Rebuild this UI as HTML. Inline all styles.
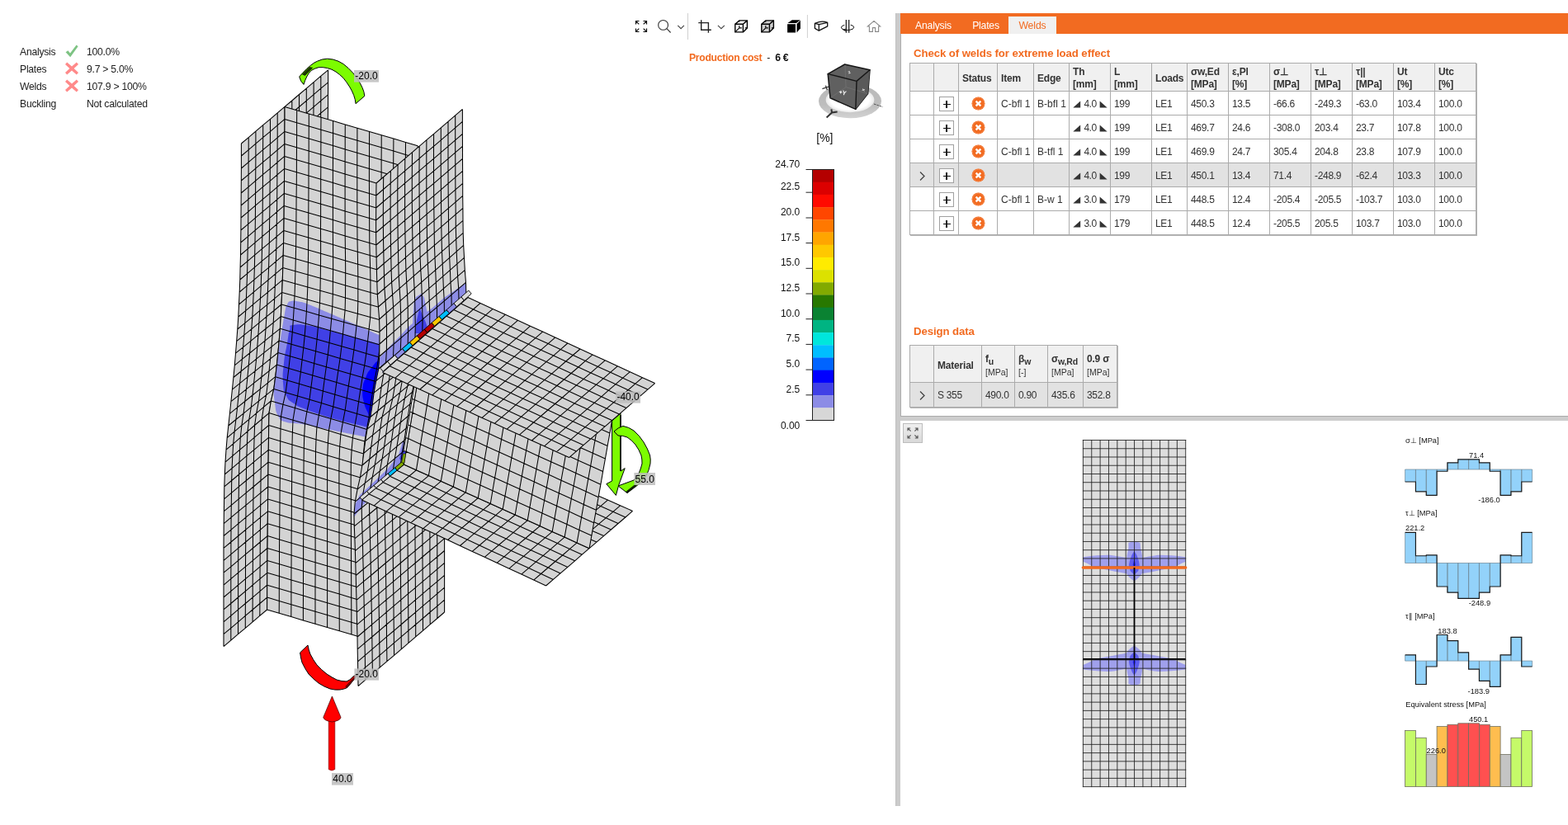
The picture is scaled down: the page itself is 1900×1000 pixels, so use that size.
<!DOCTYPE html>
<html lang="en">
<head>
<meta charset="utf-8">
<title>Check of welds</title>
<style>

html,body{margin:0;padding:0;background:#fff;}
#app{position:relative;width:1900px;height:1000px;overflow:hidden;background:#fff;
  font-family:"Liberation Sans",sans-serif;font-size:12px;color:#333;}
.abs{position:absolute;}
.t{position:absolute;white-space:nowrap;line-height:1;}
svg{overflow:visible;}
svg text{font-family:"Liberation Sans",sans-serif;}
.status{position:absolute;left:24px;top:52px;width:220px;}
.status .row{position:relative;height:21px;}
.status .row span{position:absolute;top:4px;line-height:14px;font-size:12.2px;color:#222;letter-spacing:-0.25px;}
.status .k{left:0;}
.status .v{left:81px;}
.status svg{position:absolute;left:54px;top:1px;}
.vsplit{position:absolute;left:1085px;top:16px;width:6px;height:961px;background:#cbcbcb;box-shadow:inset 1px 0 0 #c0c0c0;}
.hsplit{position:absolute;left:1091px;top:505px;width:809px;height:5px;background:#cdcdcd;}
.panel{position:absolute;left:1091px;top:41px;width:809px;height:464px;box-sizing:border-box;border-left:1px solid #ababab;border-bottom:1px solid #ababab;background:#fff;}
.tabbar{position:absolute;left:1091px;top:16px;width:809px;height:25px;background:#f26b21;}
.tab{position:absolute;top:4px;height:21px;line-height:23px;font-size:12.2px;color:#fff;text-align:center;letter-spacing:-0.1px;}
.tab.sel{background:#f0f0f0;color:#f26b21;}
.h1{position:absolute;font-weight:bold;color:#f26b21;font-size:13.2px;line-height:16px;white-space:nowrap;letter-spacing:-0.08px;}
table.grid{position:absolute;border-collapse:collapse;table-layout:fixed;font-size:12px;color:#333;
  border:1px solid #a9a9a9;box-shadow:1px 1px 0 #b5b5b5;}
table.grid th,table.grid td{border:1px solid #ababab;padding:2px 0 0 4px;text-align:left;vertical-align:middle;
  overflow:hidden;white-space:nowrap;box-sizing:border-box;letter-spacing:-0.3px;}
table.grid td.w{letter-spacing:0.03px;}
table.grid th{background:#f0f0f0;font-weight:bold;color:#333;line-height:15px;font-size:12px;letter-spacing:-0.2px;padding-top:3px;}
table.grid td{background:#fff;}
table.grid tr.sel td{background:#e2e2e2;}
table.grid td.c{padding:2px 0 0 0;text-align:center;}
.plus{display:inline-block;width:16px;height:16px;border:1px solid #a0a0a0;background:#fff;position:relative;vertical-align:middle;box-sizing:content-box;}
.plus:before{content:"";position:absolute;left:4px;top:7.5px;width:9px;height:1.6px;background:#111;}
.plus:after{content:"";position:absolute;left:7.7px;top:4px;width:1.6px;height:9px;background:#111;}
.unit{font-weight:normal;font-size:10.5px;letter-spacing:0;}
sub{font-size:10.5px;vertical-align:-3px;line-height:0;}
.fitbtn{position:absolute;left:1094px;top:513px;width:22px;height:22px;border:1px solid #bdbdbd;
  background:linear-gradient(#efefef,#d9d9d9);}

</style>
</head>
<body>
<div id="app">
<svg id="scene" width="1085" height="1000" viewBox="0 0 1085 1000" style="position:absolute;left:0;top:0"><path d="M292.4 174L301.2 166.6L309.9 159.1L318.7 151.7L327.5 144.3L336.2 136.8L345 129.4L353.8 122L362.5 114.5L371.3 107.1L380.1 99.7L388.8 92.2L397.6 84.8L397.6 99.8L397.5 114.8L397.5 129.8L397.3 144.8L397.2 159.8L397 174.8L396.9 189.8L396.7 204.8L396.7 219.8L396.6 234.8L396.4 249.8L396.2 264.8L396 279.8L395.7 294.8L395.5 309.8L395.4 324.4L395.1 339L394.5 353.7L393.6 368.3L392.4 382.9L390.9 397.5L389 412.1L386.8 426.8L381.5 441.4L378 456L378.3 470.9L378.6 485.8L378.7 500.7L378.6 515.6L378.5 530.5L378.3 545.4L378.1 560.3L377.9 575.2L377.6 590.1L377.3 605L377.1 619.9L376.9 634.8L376.7 649.7L376.5 664.6L376.3 679.5L376.2 694.4L367.4 701.8L358.7 709.3L349.9 716.7L341.1 724.1L332.4 731.6L323.6 739L314.8 746.4L306.1 753.9L297.3 761.3L288.5 768.7L279.8 776.2L271 783.6L271 768.7L271 753.8L271 738.9L271 724L271 709.1L271 694.2L271 679.3L271 664.4L271.1 649.5L271.2 634.6L271.4 619.7L271.6 604.8L271.8 589.9L272.3 575L273 560.1L274 545.2L275.2 530.6L276.8 516L278.4 501.3L279.9 486.7L281.4 472.1L282.9 457.5L284.3 442.9L285.5 428.2L286.7 413.6L287.8 399L288.8 384L289.5 369L290.2 354L290.8 339L291.1 324L291.5 309L291.7 294L291.9 279L292 264L292.1 249L292.2 234L292.3 219L292.4 204L292.4 189Z" fill="#d4d4d4"/><path d="M292.4 174L301.2 166.6L309.9 159.1L318.7 151.7L327.5 144.3L336.2 136.8L345 129.4L353.8 122L362.5 114.5L371.3 107.1L380.1 99.7L388.8 92.2L397.6 84.8M292.4 189L301.2 181.6L309.9 174.1L318.7 166.7L327.5 159.3L336.2 151.8L345 144.4L353.8 137L362.5 129.5L371.3 122.1L380.1 114.7L388.8 107.2L397.6 99.8M292.4 204L301.1 196.6L309.9 189.1L318.6 181.7L327.4 174.3L336.2 166.8L344.9 159.4L353.7 152L362.5 144.5L371.2 137.1L380 129.7L388.8 122.2L397.5 114.8M292.3 219L301.1 211.6L309.8 204.1L318.6 196.7L327.3 189.3L336.1 181.8L344.9 174.4L353.6 167L362.4 159.5L371.2 152.1L379.9 144.7L388.7 137.2L397.5 129.8M292.2 234L301 226.6L309.7 219.1L318.5 211.7L327.3 204.3L336 196.8L344.8 189.4L353.5 182L362.3 174.5L371.1 167.1L379.8 159.7L388.6 152.2L397.3 144.8M292.1 249L300.9 241.6L309.6 234.1L318.4 226.7L327.2 219.3L335.9 211.8L344.7 204.4L353.4 197L362.2 189.5L370.9 182.1L379.7 174.7L388.5 167.2L397.2 159.8M292 264L300.8 256.6L309.5 249.1L318.3 241.7L327 234.3L335.8 226.8L344.5 219.4L353.3 212L362 204.5L370.8 197.1L379.5 189.7L388.3 182.2L397 174.8M291.9 279L300.7 271.6L309.4 264.1L318.2 256.7L326.9 249.3L335.7 241.8L344.4 234.4L353.1 227L361.9 219.5L370.6 212.1L379.4 204.7L388.1 197.2L396.9 189.8M291.7 294L300.5 286.6L309.2 279.1L318 271.7L326.7 264.3L335.5 256.8L344.2 249.4L353 242L361.7 234.5L370.5 227.1L379.2 219.7L388 212.2L396.7 204.8M291.5 309L300.2 301.6L309 294.1L317.8 286.7L326.5 279.3L335.3 271.8L344.1 264.4L352.8 257L361.6 249.5L370.4 242.1L379.1 234.7L387.9 227.2L396.7 219.8M291.1 324L299.9 316.6L308.7 309.1L317.5 301.7L326.3 294.3L335.1 286.8L343.9 279.4L352.7 272L361.4 264.5L370.2 257.1L379 249.7L387.8 242.2L396.6 234.8M290.8 339L299.6 331.6L308.4 324.1L317.2 316.7L326 309.3L334.8 301.8L343.6 294.4L352.4 287L361.2 279.5L370 272.1L378.8 264.7L387.6 257.2L396.4 249.8M290.2 354L299 346.6L307.9 339.1L316.7 331.7L325.6 324.3L334.4 316.8L343.2 309.4L352.1 302L360.9 294.5L369.7 287.1L378.6 279.7L387.4 272.2L396.2 264.8M289.5 369L298.4 361.6L307.3 354.1L316.2 346.7L325 339.3L333.9 331.8L342.8 324.4L351.6 317L360.5 309.5L369.4 302.1L378.3 294.7L387.1 287.2L396 279.8M288.8 384L297.7 376.6L306.6 369.1L315.5 361.7L324.4 354.3L333.3 346.8L342.3 339.4L351.2 332L360.1 324.5L369 317.1L377.9 309.7L386.8 302.2L395.7 294.8M287.8 399L296.8 391.6L305.8 384.1L314.7 376.7L323.7 369.3L332.7 361.8L341.7 354.4L350.6 347L359.6 339.5L368.6 332.1L377.6 324.7L386.5 317.2L395.5 309.8M286.7 413.6L295.8 406.2L304.8 398.8L313.9 391.3L322.9 383.9L332 376.5L341 369L350.1 361.6L359.2 354.2L368.2 346.7L377.3 339.3L386.3 331.9L395.4 324.4M285.5 428.2L294.6 420.8L303.8 413.4L312.9 405.9L322 398.5L331.2 391.1L340.3 383.6L349.4 376.2L358.6 368.8L367.7 361.3L376.8 353.9L386 346.5L395.1 339M284.3 442.9L293.4 435.4L302.6 428L311.8 420.6L321 413.1L330.2 405.7L339.4 398.3L348.5 390.8L357.7 383.4L366.9 376L376.1 368.5L385.3 361.1L394.5 353.7M282.9 457.5L292.1 450L301.3 442.6L310.6 435.2L319.8 427.7L329 420.3L338.2 412.9L347.4 405.4L356.7 398L365.9 390.6L375.1 383.1L384.3 375.7L393.6 368.3M281.4 472.1L290.6 464.7L299.9 457.2L309.1 449.8L318.4 442.4L327.6 434.9L336.9 427.5L346.2 420.1L355.4 412.6L364.7 405.2L373.9 397.8L383.2 390.3L392.4 382.9M279.9 486.7L289.1 479.3L298.4 471.9L307.6 464.4L316.9 457L326.1 449.6L335.4 442.1L344.6 434.7L353.9 427.3L363.2 419.8L372.4 412.4L381.7 405L390.9 397.5M278.4 501.3L287.6 493.9L296.8 486.5L306 479L315.3 471.6L324.5 464.2L333.7 456.7L342.9 449.3L352.1 441.9L361.4 434.4L370.6 427L379.8 419.6L389 412.1M276.8 516L285.9 508.5L295.1 501.1L304.3 493.7L313.5 486.2L322.6 478.8L331.8 471.4L341 463.9L350.1 456.5L359.3 449.1L368.5 441.6L377.7 434.2L386.8 426.8M275.2 530.6L284.1 523.1L292.9 515.7L301.8 508.3L310.7 500.8L319.5 493.4L328.4 486L337.2 478.5L346.1 471.1L355 463.7L363.8 456.2L372.7 448.8L381.5 441.4M274 545.2L282.7 537.8L291.3 530.3L300 522.9L308.6 515.5L317.3 508L326 500.6L334.6 493.2L343.3 485.7L352 478.3L360.6 470.9L369.3 463.4L378 456M273 560.1L281.8 552.7L290.6 545.2L299.4 537.8L308.1 530.4L316.9 522.9L325.7 515.5L334.4 508.1L343.2 500.6L352 493.2L360.8 485.8L369.5 478.3L378.3 470.9M272.3 575L281.1 567.6L290 560.1L298.9 552.7L307.7 545.3L316.6 537.8L325.5 530.4L334.3 523L343.2 515.5L352 508.1L360.9 500.7L369.8 493.2L378.6 485.8M271.8 589.9L280.7 582.5L289.6 575L298.5 567.6L307.4 560.2L316.4 552.7L325.3 545.3L334.2 537.9L343.1 530.4L352 523L360.9 515.6L369.8 508.1L378.7 500.7M271.6 604.8L280.5 597.4L289.4 589.9L298.3 582.5L307.3 575.1L316.2 567.6L325.1 560.2L334 552.8L342.9 545.3L351.9 537.9L360.8 530.5L369.7 523L378.6 515.6M271.4 619.7L280.3 612.3L289.2 604.8L298.2 597.4L307.1 590L316 582.5L324.9 575.1L333.9 567.7L342.8 560.2L351.7 552.8L360.7 545.4L369.6 537.9L378.5 530.5M271.2 634.6L280.1 627.2L289.1 619.7L298 612.3L306.9 604.9L315.9 597.4L324.8 590L333.7 582.6L342.6 575.1L351.6 567.7L360.5 560.3L369.4 552.8L378.3 545.4M271.1 649.5L280 642.1L288.9 634.6L297.9 627.2L306.8 619.8L315.7 612.3L324.6 604.9L333.5 597.5L342.5 590L351.4 582.6L360.3 575.2L369.2 567.7L378.1 560.3M271 664.4L279.9 657L288.8 649.5L297.7 642.1L306.6 634.7L315.6 627.2L324.5 619.8L333.4 612.4L342.3 604.9L351.2 597.5L360.1 590.1L369 582.6L377.9 575.2M271 679.3L279.9 671.9L288.8 664.4L297.7 657L306.5 649.6L315.4 642.1L324.3 634.7L333.2 627.3L342.1 619.8L351 612.4L359.8 605L368.7 597.5L377.6 590.1M271 694.2L279.9 686.8L288.7 679.3L297.6 671.9L306.4 664.5L315.3 657L324.2 649.6L333 642.2L341.9 634.7L350.7 627.3L359.6 619.9L368.5 612.4L377.3 605M271 709.1L279.8 701.7L288.7 694.2L297.5 686.8L306.4 679.4L315.2 671.9L324 664.5L332.9 657.1L341.7 649.6L350.6 642.2L359.4 634.8L368.2 627.3L377.1 619.9M271 724L279.8 716.6L288.6 709.1L297.5 701.7L306.3 694.3L315.1 686.8L323.9 679.4L332.8 672L341.6 664.5L350.4 657.1L359.2 649.7L368 642.2L376.9 634.8M271 738.9L279.8 731.5L288.6 724L297.4 716.6L306.2 709.2L315 701.7L323.8 694.3L332.6 686.9L341.4 679.4L350.3 672L359.1 664.6L367.9 657.1L376.7 649.7M271 753.8L279.8 746.4L288.6 738.9L297.4 731.5L306.2 724.1L315 716.6L323.7 709.2L332.5 701.8L341.3 694.3L350.1 686.9L358.9 679.5L367.7 672L376.5 664.6M271 768.7L279.8 761.3L288.6 753.8L297.3 746.4L306.1 739L314.9 731.5L323.7 724.1L332.4 716.7L341.2 709.2L350 701.8L358.8 694.4L367.6 686.9L376.3 679.5M271 783.6L279.8 776.2L288.5 768.7L297.3 761.3L306.1 753.9L314.8 746.4L323.6 739L332.4 731.6L341.1 724.1L349.9 716.7L358.7 709.3L367.4 701.8L376.2 694.4M292.4 174L292.4 189L292.4 204L292.3 219L292.2 234L292.1 249L292 264L291.9 279L291.7 294L291.5 309L291.1 324L290.8 339L290.2 354L289.5 369L288.8 384L287.8 399L286.7 413.6L285.5 428.2L284.3 442.9L282.9 457.5L281.4 472.1L279.9 486.7L278.4 501.3L276.8 516L275.2 530.6L274 545.2L273 560.1L272.3 575L271.8 589.9L271.6 604.8L271.4 619.7L271.2 634.6L271.1 649.5L271 664.4L271 679.3L271 694.2L271 709.1L271 724L271 738.9L271 753.8L271 768.7L271 783.6M301.2 166.6L301.2 181.6L301.1 196.6L301.1 211.6L301 226.6L300.9 241.6L300.8 256.6L300.7 271.6L300.5 286.6L300.2 301.6L299.9 316.6L299.6 331.6L299 346.6L298.4 361.6L297.7 376.6L296.8 391.6L295.8 406.2L294.6 420.8L293.4 435.4L292.1 450L290.6 464.7L289.1 479.3L287.6 493.9L285.9 508.5L284.1 523.1L282.7 537.8L281.8 552.7L281.1 567.6L280.7 582.5L280.5 597.4L280.3 612.3L280.1 627.2L280 642.1L279.9 657L279.9 671.9L279.9 686.8L279.8 701.7L279.8 716.6L279.8 731.5L279.8 746.4L279.8 761.3L279.8 776.2M309.9 159.1L309.9 174.1L309.9 189.1L309.8 204.1L309.7 219.1L309.6 234.1L309.5 249.1L309.4 264.1L309.2 279.1L309 294.1L308.7 309.1L308.4 324.1L307.9 339.1L307.3 354.1L306.6 369.1L305.8 384.1L304.8 398.8L303.8 413.4L302.6 428L301.3 442.6L299.9 457.2L298.4 471.9L296.8 486.5L295.1 501.1L292.9 515.7L291.3 530.3L290.6 545.2L290 560.1L289.6 575L289.4 589.9L289.2 604.8L289.1 619.7L288.9 634.6L288.8 649.5L288.8 664.4L288.7 679.3L288.7 694.2L288.6 709.1L288.6 724L288.6 738.9L288.6 753.8L288.5 768.7M318.7 151.7L318.7 166.7L318.6 181.7L318.6 196.7L318.5 211.7L318.4 226.7L318.3 241.7L318.2 256.7L318 271.7L317.8 286.7L317.5 301.7L317.2 316.7L316.7 331.7L316.2 346.7L315.5 361.7L314.7 376.7L313.9 391.3L312.9 405.9L311.8 420.6L310.6 435.2L309.1 449.8L307.6 464.4L306 479L304.3 493.7L301.8 508.3L300 522.9L299.4 537.8L298.9 552.7L298.5 567.6L298.3 582.5L298.2 597.4L298 612.3L297.9 627.2L297.7 642.1L297.7 657L297.6 671.9L297.5 686.8L297.5 701.7L297.4 716.6L297.4 731.5L297.3 746.4L297.3 761.3M327.5 144.3L327.5 159.3L327.4 174.3L327.3 189.3L327.3 204.3L327.2 219.3L327 234.3L326.9 249.3L326.7 264.3L326.5 279.3L326.3 294.3L326 309.3L325.6 324.3L325 339.3L324.4 354.3L323.7 369.3L322.9 383.9L322 398.5L321 413.1L319.8 427.7L318.4 442.4L316.9 457L315.3 471.6L313.5 486.2L310.7 500.8L308.6 515.5L308.1 530.4L307.7 545.3L307.4 560.2L307.3 575.1L307.1 590L306.9 604.9L306.8 619.8L306.6 634.7L306.5 649.6L306.4 664.5L306.4 679.4L306.3 694.3L306.2 709.2L306.2 724.1L306.1 739L306.1 753.9M336.2 136.8L336.2 151.8L336.2 166.8L336.1 181.8L336 196.8L335.9 211.8L335.8 226.8L335.7 241.8L335.5 256.8L335.3 271.8L335.1 286.8L334.8 301.8L334.4 316.8L333.9 331.8L333.3 346.8L332.7 361.8L332 376.5L331.2 391.1L330.2 405.7L329 420.3L327.6 434.9L326.1 449.6L324.5 464.2L322.6 478.8L319.5 493.4L317.3 508L316.9 522.9L316.6 537.8L316.4 552.7L316.2 567.6L316 582.5L315.9 597.4L315.7 612.3L315.6 627.2L315.4 642.1L315.3 657L315.2 671.9L315.1 686.8L315 701.7L315 716.6L314.9 731.5L314.8 746.4M345 129.4L345 144.4L344.9 159.4L344.9 174.4L344.8 189.4L344.7 204.4L344.5 219.4L344.4 234.4L344.2 249.4L344.1 264.4L343.9 279.4L343.6 294.4L343.2 309.4L342.8 324.4L342.3 339.4L341.7 354.4L341 369L340.3 383.6L339.4 398.3L338.2 412.9L336.9 427.5L335.4 442.1L333.7 456.7L331.8 471.4L328.4 486L326 500.6L325.7 515.5L325.5 530.4L325.3 545.3L325.1 560.2L324.9 575.1L324.8 590L324.6 604.9L324.5 619.8L324.3 634.7L324.2 649.6L324 664.5L323.9 679.4L323.8 694.3L323.7 709.2L323.7 724.1L323.6 739M353.8 122L353.8 137L353.7 152L353.6 167L353.5 182L353.4 197L353.3 212L353.1 227L353 242L352.8 257L352.7 272L352.4 287L352.1 302L351.6 317L351.2 332L350.6 347L350.1 361.6L349.4 376.2L348.5 390.8L347.4 405.4L346.2 420.1L344.6 434.7L342.9 449.3L341 463.9L337.2 478.5L334.6 493.2L334.4 508.1L334.3 523L334.2 537.9L334 552.8L333.9 567.7L333.7 582.6L333.5 597.5L333.4 612.4L333.2 627.3L333 642.2L332.9 657.1L332.8 672L332.6 686.9L332.5 701.8L332.4 716.7L332.4 731.6M362.5 114.5L362.5 129.5L362.5 144.5L362.4 159.5L362.3 174.5L362.2 189.5L362 204.5L361.9 219.5L361.7 234.5L361.6 249.5L361.4 264.5L361.2 279.5L360.9 294.5L360.5 309.5L360.1 324.5L359.6 339.5L359.2 354.2L358.6 368.8L357.7 383.4L356.7 398L355.4 412.6L353.9 427.3L352.1 441.9L350.1 456.5L346.1 471.1L343.3 485.7L343.2 500.6L343.2 515.5L343.1 530.4L342.9 545.3L342.8 560.2L342.6 575.1L342.5 590L342.3 604.9L342.1 619.8L341.9 634.7L341.7 649.6L341.6 664.5L341.4 679.4L341.3 694.3L341.2 709.2L341.1 724.1M371.3 107.1L371.3 122.1L371.2 137.1L371.2 152.1L371.1 167.1L370.9 182.1L370.8 197.1L370.6 212.1L370.5 227.1L370.4 242.1L370.2 257.1L370 272.1L369.7 287.1L369.4 302.1L369 317.1L368.6 332.1L368.2 346.7L367.7 361.3L366.9 376L365.9 390.6L364.7 405.2L363.2 419.8L361.4 434.4L359.3 449.1L355 463.7L352 478.3L352 493.2L352 508.1L352 523L351.9 537.9L351.7 552.8L351.6 567.7L351.4 582.6L351.2 597.5L351 612.4L350.7 627.3L350.6 642.2L350.4 657.1L350.3 672L350.1 686.9L350 701.8L349.9 716.7M380.1 99.7L380.1 114.7L380 129.7L379.9 144.7L379.8 159.7L379.7 174.7L379.5 189.7L379.4 204.7L379.2 219.7L379.1 234.7L379 249.7L378.8 264.7L378.6 279.7L378.3 294.7L377.9 309.7L377.6 324.7L377.3 339.3L376.8 353.9L376.1 368.5L375.1 383.1L373.9 397.8L372.4 412.4L370.6 427L368.5 441.6L363.8 456.2L360.6 470.9L360.8 485.8L360.9 500.7L360.9 515.6L360.8 530.5L360.7 545.4L360.5 560.3L360.3 575.2L360.1 590.1L359.8 605L359.6 619.9L359.4 634.8L359.2 649.7L359.1 664.6L358.9 679.5L358.8 694.4L358.7 709.3M388.8 92.2L388.8 107.2L388.8 122.2L388.7 137.2L388.6 152.2L388.5 167.2L388.3 182.2L388.1 197.2L388 212.2L387.9 227.2L387.8 242.2L387.6 257.2L387.4 272.2L387.1 287.2L386.8 302.2L386.5 317.2L386.3 331.9L386 346.5L385.3 361.1L384.3 375.7L383.2 390.3L381.7 405L379.8 419.6L377.7 434.2L372.7 448.8L369.3 463.4L369.5 478.3L369.8 493.2L369.8 508.1L369.7 523L369.6 537.9L369.4 552.8L369.2 567.7L369 582.6L368.7 597.5L368.5 612.4L368.2 627.3L368 642.2L367.9 657.1L367.7 672L367.6 686.9L367.4 701.8M397.6 84.8L397.6 99.8L397.5 114.8L397.5 129.8L397.3 144.8L397.2 159.8L397 174.8L396.9 189.8L396.7 204.8L396.7 219.8L396.6 234.8L396.4 249.8L396.2 264.8L396 279.8L395.7 294.8L395.5 309.8L395.4 324.4L395.1 339L394.5 353.7L393.6 368.3L392.4 382.9L390.9 397.5L389 412.1L386.8 426.8L381.5 441.4L378 456L378.3 470.9L378.6 485.8L378.7 500.7L378.6 515.6L378.5 530.5L378.3 545.4L378.1 560.3L377.9 575.2L377.6 590.1L377.3 605L377.1 619.9L376.9 634.8L376.7 649.7L376.5 664.6L376.3 679.5L376.2 694.4" fill="none" stroke="#000" stroke-width="1.05" stroke-linejoin="round"/><path d="M345 129.4L359.7 133.7L374.3 138L389 142.3L403.6 146.6L418.3 150.9L432.9 155.2L447.6 159.5L462.2 163.8L476.9 168.1L491.5 172.4L506.2 176.7L506.1 191.7L506 206.7L506 221.7L506.1 236.7L506.2 251.7L506.4 266.7L506.6 281.7L506.8 296.7L507.1 311.7L507.8 326.7L508.7 341.7L509.2 356.7L509.6 371.7L510.1 386.7L509.8 401.7L507.7 416.3L505.6 430.9L503.5 445.6L500.8 460.2L497.4 474.8L494.7 489.4L492.3 504L490.1 518.7L487.8 533.3L485.4 547.9L483.4 562.8L482.4 577.7L482.3 592.6L482.4 607.5L482.7 622.4L482.8 637.3L483 652.2L483.1 667.1L483.3 682L483.5 696.9L483.6 711.8L483.8 726.7L483.9 741.6L484.1 756.5L484.2 771.4L484.3 786.3L469.7 782L455.1 777.7L440.5 773.4L425.9 769.1L411.3 764.8L396.6 760.5L382 756.2L367.4 751.9L352.8 747.6L338.2 743.3L323.6 739L323.7 724.1L323.7 709.2L323.8 694.3L323.9 679.4L324 664.5L324.2 649.6L324.3 634.7L324.5 619.8L324.6 604.9L324.8 590L324.9 575.1L325.1 560.2L325.3 545.3L325.5 530.4L325.7 515.5L326 500.6L328.4 486L331.8 471.4L333.7 456.7L335.4 442.1L336.9 427.5L338.2 412.9L339.4 398.3L340.3 383.6L341 369L341.7 354.4L342.3 339.4L342.8 324.4L343.2 309.4L343.6 294.4L343.9 279.4L344.1 264.4L344.2 249.4L344.4 234.4L344.5 219.4L344.7 204.4L344.8 189.4L344.9 174.4L344.9 159.4L345 144.4Z" fill="#d4d4d4"/><clipPath id="cw"><path d="M345 129.4L359.7 133.7L374.3 138L389 142.3L403.6 146.6L418.3 150.9L432.9 155.2L447.6 159.5L462.2 163.8L476.9 168.1L491.5 172.4L506.2 176.7L506.1 191.7L506 206.7L506 221.7L506.1 236.7L506.2 251.7L506.4 266.7L506.6 281.7L506.8 296.7L507.1 311.7L507.8 326.7L508.7 341.7L509.2 356.7L509.6 371.7L510.1 386.7L509.8 401.7L507.7 416.3L505.6 430.9L503.5 445.6L500.8 460.2L497.4 474.8L494.7 489.4L492.3 504L490.1 518.7L487.8 533.3L485.4 547.9L483.4 562.8L482.4 577.7L482.3 592.6L482.4 607.5L482.7 622.4L482.8 637.3L483 652.2L483.1 667.1L483.3 682L483.5 696.9L483.6 711.8L483.8 726.7L483.9 741.6L484.1 756.5L484.2 771.4L484.3 786.3L469.7 782L455.1 777.7L440.5 773.4L425.9 769.1L411.3 764.8L396.6 760.5L382 756.2L367.4 751.9L352.8 747.6L338.2 743.3L323.6 739L323.7 724.1L323.7 709.2L323.8 694.3L323.9 679.4L324 664.5L324.2 649.6L324.3 634.7L324.5 619.8L324.6 604.9L324.8 590L324.9 575.1L325.1 560.2L325.3 545.3L325.5 530.4L325.7 515.5L326 500.6L328.4 486L331.8 471.4L333.7 456.7L335.4 442.1L336.9 427.5L338.2 412.9L339.4 398.3L340.3 383.6L341 369L341.7 354.4L342.3 339.4L342.8 324.4L343.2 309.4L343.6 294.4L343.9 279.4L344.1 264.4L344.2 249.4L344.4 234.4L344.5 219.4L344.7 204.4L344.8 189.4L344.9 174.4L344.9 159.4L345 144.4Z"/></clipPath><g clip-path="url(#cw)"><path d="M353 365C356.7 364.1 356.4 364.5 362 365.6C367.6 366.7 363.9 365.2 374 369C384.1 372.8 385.1 373.6 400 380C414.9 386.4 414.3 386.1 430 393C445.7 399.9 447.3 400.9 459 406C470.7 411.1 469.5 394.9 474 412C478.5 429.1 477.1 437.5 476 470C474.9 502.5 478.8 518.1 470 534C461.2 549.9 453.7 531.4 443 529.5C432.3 527.6 438.8 528.7 430 527C421.2 525.3 420.7 525.1 410 523C399.3 520.9 401.7 521.4 390 519C378.3 516.6 377.7 516 366 514C354.3 512 353.7 514.2 346 511.5C338.3 508.8 340.5 510.3 337 504C333.5 497.7 334.3 497.6 333 488C331.7 478.4 331.5 480.8 332 468C332.5 455.2 332.9 455.5 335 440C337.1 424.5 337.3 426 340 410C342.7 394 342.9 390.9 345 380C347.1 369.1 345.9 373 348 369C350.1 365 349.3 365.9 353 365Z" fill="#8c8ce6"/><path d="M355 394C361.7 392.7 364 393.1 376 395C388 396.9 385.6 397.3 400 401C414.4 404.7 414.3 404.7 430 409C445.7 413.3 447.3 413.8 459 417C470.7 420.2 469.5 406.9 474 421C478.5 435.1 477.1 442.5 476 470C474.9 497.5 478 511.2 470 524C462 536.8 456.7 520.7 446 518C435.3 515.3 439.6 516.4 430 514C420.4 511.6 420.7 511.9 410 509C399.3 506.1 400.7 506.5 390 503C379.3 499.5 379.1 499.7 370 496C360.9 492.3 362.1 493.3 356 489C349.9 484.7 350.5 486.7 347 480C343.5 473.3 343.8 474.7 343 464C342.2 453.3 342.7 452.8 344 440C345.3 427.2 346.1 426.7 348 416C349.9 405.3 349.1 405.9 351 400C352.9 394.1 348.3 395.3 355 394Z" fill="#4040e6"/><path d="M461 436C454.6 438.7 454.8 440.1 450 446C445.2 451.9 445.8 451.1 443 458C440.2 464.9 439.9 464 439.4 472C438.9 480 439 479.5 441 488C443 496.5 444.6 496 447 504C449.4 512 443.3 513.7 450 518C456.7 522.3 465.6 541.9 472 520C478.4 498.1 476.9 458.4 474 436C471.1 413.6 467.4 433.3 461 436Z" fill="#0000ff"/></g><path d="M345 129.4L359.7 133.7L374.3 138L389 142.3L403.6 146.6L418.3 150.9L432.9 155.2L447.6 159.5L462.2 163.8L476.9 168.1L491.5 172.4L506.2 176.7M345 144.4L359.6 148.7L374.3 153L388.9 157.3L403.6 161.6L418.2 165.9L432.9 170.2L447.5 174.5L462.2 178.8L476.8 183.1L491.4 187.4L506.1 191.7M344.9 159.4L359.6 163.7L374.2 168L388.9 172.3L403.5 176.6L418.2 180.9L432.8 185.2L447.5 189.5L462.1 193.8L476.7 198.1L491.4 202.4L506 206.7M344.9 174.4L359.5 178.7L374.2 183L388.8 187.3L403.5 191.6L418.1 195.9L432.8 200.2L447.4 204.5L462.1 208.8L476.7 213.1L491.4 217.4L506 221.7M344.8 189.4L359.4 193.7L374.1 198L388.8 202.3L403.4 206.6L418.1 210.9L432.8 215.2L447.4 219.5L462.1 223.8L476.8 228.1L491.4 232.4L506.1 236.7M344.7 204.4L359.4 208.7L374 213L388.7 217.3L403.4 221.6L418.1 225.9L432.8 230.2L447.5 234.5L462.1 238.8L476.8 243.1L491.5 247.4L506.2 251.7M344.5 219.4L359.3 223.7L374 228L388.7 232.3L403.4 236.6L418.1 240.9L432.8 245.2L447.5 249.5L462.2 253.8L476.9 258.1L491.6 262.4L506.4 266.7M344.4 234.4L359.1 238.7L373.9 243L388.6 247.3L403.4 251.6L418.1 255.9L432.9 260.2L447.6 264.5L462.3 268.8L477.1 273.1L491.8 277.4L506.6 281.7M344.2 249.4L359 253.7L373.8 258L388.6 262.3L403.4 266.6L418.1 270.9L432.9 275.2L447.7 279.5L462.5 283.8L477.3 288.1L492 292.4L506.8 296.7M344.1 264.4L358.9 268.7L373.7 273L388.5 277.3L403.4 281.6L418.2 285.9L433 290.2L447.8 294.5L462.7 298.8L477.5 303.1L492.3 307.4L507.1 311.7M343.9 279.4L358.8 283.7L373.7 288L388.6 292.3L403.5 296.6L418.4 300.9L433.3 305.2L448.2 309.5L463.1 313.8L478 318.1L492.9 322.4L507.8 326.7M343.6 294.4L358.6 298.7L373.6 303L388.6 307.3L403.6 311.6L418.6 315.9L433.6 320.2L448.6 324.5L463.6 328.8L478.6 333.1L493.7 337.4L508.7 341.7M343.2 309.4L358.3 313.7L373.4 318L388.5 322.3L403.6 326.6L418.7 330.9L433.8 335.2L448.9 339.5L464 343.8L479 348.1L494.1 352.4L509.2 356.7M342.8 324.4L357.9 328.7L373.1 333L388.3 337.3L403.4 341.6L418.6 345.9L433.8 350.2L448.9 354.5L464.1 358.8L479.2 363.1L494.4 367.4L509.6 371.7M342.3 339.4L357.5 343.7L372.8 348L388 352.3L403.3 356.6L418.5 360.9L433.8 365.2L449 369.5L464.3 373.8L479.6 378.1L494.8 382.4L510.1 386.7M341.7 354.4L357 358.7L372.2 363L387.5 367.3L402.8 371.6L418.1 375.9L433.4 380.2L448.7 384.5L464 388.8L479.3 393.1L494.5 397.4L509.8 401.7M341 369L356.2 373.3L371.4 377.6L386.5 381.9L401.7 386.2L416.8 390.5L432 394.8L447.1 399.1L462.3 403.4L477.4 407.7L492.6 412L507.7 416.3M340.3 383.6L355.3 387.9L370.4 392.2L385.4 396.5L400.4 400.8L415.5 405.1L430.5 409.4L445.5 413.7L460.5 418L475.6 422.3L490.6 426.6L505.6 430.9M339.4 398.3L354.3 402.6L369.2 406.9L384.1 411.2L399 415.5L413.9 419.8L428.9 424.1L443.8 428.4L458.7 432.7L473.6 437L488.5 441.3L503.5 445.6M338.2 412.9L353 417.2L367.8 421.5L382.6 425.8L397.3 430.1L412.1 434.4L426.9 438.7L441.7 443L456.5 447.3L471.2 451.6L486 455.9L500.8 460.2M336.9 427.5L351.5 431.8L366.1 436.1L380.7 440.4L395.3 444.7L409.9 449L424.5 453.3L439.1 457.6L453.7 461.9L468.3 466.2L482.8 470.5L497.4 474.8M335.4 442.1L349.9 446.4L364.4 450.7L378.8 455L393.3 459.3L407.8 463.6L422.3 467.9L436.8 472.2L451.3 476.5L465.7 480.8L480.2 485.1L494.7 489.4M333.7 456.7L348.1 461L362.5 465.3L376.9 469.6L391.4 473.9L405.8 478.2L420.2 482.5L434.6 486.8L449 491.1L463.5 495.4L477.9 499.7L492.3 504M331.8 471.4L346.2 475.7L360.6 480L375 484.3L389.4 488.6L403.8 492.9L418.2 497.2L432.6 501.5L447 505.8L461.4 510.1L475.8 514.4L490.1 518.7M328.4 486L342.9 490.3L357.4 494.6L371.9 498.9L386.4 503.2L400.9 507.5L415.4 511.8L429.9 516.1L444.4 520.4L458.8 524.7L473.3 529L487.8 533.3M326 500.6L340.5 504.9L355 509.2L369.5 513.5L383.9 517.8L398.4 522.1L412.9 526.4L427.4 530.7L441.9 535L456.4 539.3L470.9 543.6L485.4 547.9M325.7 515.5L340 519.8L354.4 524.1L368.7 528.4L383 532.7L397.4 537L411.7 541.3L426.1 545.6L440.4 549.9L454.8 554.2L469.1 558.5L483.4 562.8M325.5 530.4L339.7 534.7L354 539L368.3 543.3L382.5 547.6L396.8 551.9L411.1 556.2L425.3 560.5L439.6 564.8L453.9 569.1L468.1 573.4L482.4 577.7M325.3 545.3L339.5 549.6L353.8 553.9L368.1 558.2L382.4 562.5L396.6 566.8L410.9 571.1L425.2 575.4L439.5 579.7L453.7 584L468 588.3L482.3 592.6M325.1 560.2L339.4 564.5L353.7 568.8L368 573.1L382.3 577.4L396.6 581.7L410.9 586L425.2 590.3L439.5 594.6L453.8 598.9L468.1 603.2L482.4 607.5M324.9 575.1L339.3 579.4L353.6 583.7L368 588L382.3 592.3L396.6 596.6L411 600.9L425.3 605.2L439.6 609.5L454 613.8L468.3 618.1L482.7 622.4M324.8 590L339.1 594.3L353.5 598.6L367.9 602.9L382.2 607.2L396.6 611.5L411 615.8L425.3 620.1L439.7 624.4L454.1 628.7L468.4 633L482.8 637.3M324.6 604.9L339 609.2L353.4 613.5L367.8 617.8L382.2 622.1L396.6 626.4L411 630.7L425.4 635L439.8 639.3L454.2 643.6L468.6 647.9L483 652.2M324.5 619.8L338.9 624.1L353.3 628.4L367.7 632.7L382.2 637L396.6 641.3L411 645.6L425.4 649.9L439.9 654.2L454.3 658.5L468.7 662.8L483.1 667.1M324.3 634.7L338.8 639L353.2 643.3L367.7 647.6L382.1 651.9L396.6 656.2L411 660.5L425.5 664.8L439.9 669.1L454.4 673.4L468.9 677.7L483.3 682M324.2 649.6L338.6 653.9L353.1 658.2L367.6 662.5L382.1 666.8L396.6 671.1L411.1 675.4L425.5 679.7L440 684L454.5 688.3L469 692.6L483.5 696.9M324 664.5L338.5 668.8L353.1 673.1L367.6 677.4L382.1 681.7L396.6 686L411.1 690.3L425.6 694.6L440.1 698.9L454.6 703.2L469.1 707.5L483.6 711.8M323.9 679.4L338.5 683.7L353 688L367.5 692.3L382.1 696.6L396.6 700.9L411.1 705.2L425.7 709.5L440.2 713.8L454.7 718.1L469.2 722.4L483.8 726.7M323.8 694.3L338.4 698.6L352.9 702.9L367.5 707.2L382 711.5L396.6 715.8L411.2 720.1L425.7 724.4L440.3 728.7L454.8 733L469.4 737.3L483.9 741.6M323.7 709.2L338.3 713.5L352.9 717.8L367.5 722.1L382 726.4L396.6 730.7L411.2 735L425.8 739.3L440.3 743.6L454.9 747.9L469.5 752.2L484.1 756.5M323.7 724.1L338.3 728.4L352.9 732.7L367.4 737L382 741.3L396.6 745.6L411.2 749.9L425.8 754.2L440.4 758.5L455 762.8L469.6 767.1L484.2 771.4M323.6 739L338.2 743.3L352.8 747.6L367.4 751.9L382 756.2L396.6 760.5L411.3 764.8L425.9 769.1L440.5 773.4L455.1 777.7L469.7 782L484.3 786.3M345 129.4L345 144.4L344.9 159.4L344.9 174.4L344.8 189.4L344.7 204.4L344.5 219.4L344.4 234.4L344.2 249.4L344.1 264.4L343.9 279.4L343.6 294.4L343.2 309.4L342.8 324.4L342.3 339.4L341.7 354.4L341 369L340.3 383.6L339.4 398.3L338.2 412.9L336.9 427.5L335.4 442.1L333.7 456.7L331.8 471.4L328.4 486L326 500.6L325.7 515.5L325.5 530.4L325.3 545.3L325.1 560.2L324.9 575.1L324.8 590L324.6 604.9L324.5 619.8L324.3 634.7L324.2 649.6L324 664.5L323.9 679.4L323.8 694.3L323.7 709.2L323.7 724.1L323.6 739M359.7 133.7L359.6 148.7L359.6 163.7L359.5 178.7L359.4 193.7L359.4 208.7L359.3 223.7L359.1 238.7L359 253.7L358.9 268.7L358.8 283.7L358.6 298.7L358.3 313.7L357.9 328.7L357.5 343.7L357 358.7L356.2 373.3L355.3 387.9L354.3 402.6L353 417.2L351.5 431.8L349.9 446.4L348.1 461L346.2 475.7L342.9 490.3L340.5 504.9L340 519.8L339.7 534.7L339.5 549.6L339.4 564.5L339.3 579.4L339.1 594.3L339 609.2L338.9 624.1L338.8 639L338.6 653.9L338.5 668.8L338.5 683.7L338.4 698.6L338.3 713.5L338.3 728.4L338.2 743.3M374.3 138L374.3 153L374.2 168L374.2 183L374.1 198L374 213L374 228L373.9 243L373.8 258L373.7 273L373.7 288L373.6 303L373.4 318L373.1 333L372.8 348L372.2 363L371.4 377.6L370.4 392.2L369.2 406.9L367.8 421.5L366.1 436.1L364.4 450.7L362.5 465.3L360.6 480L357.4 494.6L355 509.2L354.4 524.1L354 539L353.8 553.9L353.7 568.8L353.6 583.7L353.5 598.6L353.4 613.5L353.3 628.4L353.2 643.3L353.1 658.2L353.1 673.1L353 688L352.9 702.9L352.9 717.8L352.9 732.7L352.8 747.6M389 142.3L388.9 157.3L388.9 172.3L388.8 187.3L388.8 202.3L388.7 217.3L388.7 232.3L388.6 247.3L388.6 262.3L388.5 277.3L388.6 292.3L388.6 307.3L388.5 322.3L388.3 337.3L388 352.3L387.5 367.3L386.5 381.9L385.4 396.5L384.1 411.2L382.6 425.8L380.7 440.4L378.8 455L376.9 469.6L375 484.3L371.9 498.9L369.5 513.5L368.7 528.4L368.3 543.3L368.1 558.2L368 573.1L368 588L367.9 602.9L367.8 617.8L367.7 632.7L367.7 647.6L367.6 662.5L367.6 677.4L367.5 692.3L367.5 707.2L367.5 722.1L367.4 737L367.4 751.9M403.6 146.6L403.6 161.6L403.5 176.6L403.5 191.6L403.4 206.6L403.4 221.6L403.4 236.6L403.4 251.6L403.4 266.6L403.4 281.6L403.5 296.6L403.6 311.6L403.6 326.6L403.4 341.6L403.3 356.6L402.8 371.6L401.7 386.2L400.4 400.8L399 415.5L397.3 430.1L395.3 444.7L393.3 459.3L391.4 473.9L389.4 488.6L386.4 503.2L383.9 517.8L383 532.7L382.5 547.6L382.4 562.5L382.3 577.4L382.3 592.3L382.2 607.2L382.2 622.1L382.2 637L382.1 651.9L382.1 666.8L382.1 681.7L382.1 696.6L382 711.5L382 726.4L382 741.3L382 756.2M418.3 150.9L418.2 165.9L418.2 180.9L418.1 195.9L418.1 210.9L418.1 225.9L418.1 240.9L418.1 255.9L418.1 270.9L418.2 285.9L418.4 300.9L418.6 315.9L418.7 330.9L418.6 345.9L418.5 360.9L418.1 375.9L416.8 390.5L415.5 405.1L413.9 419.8L412.1 434.4L409.9 449L407.8 463.6L405.8 478.2L403.8 492.9L400.9 507.5L398.4 522.1L397.4 537L396.8 551.9L396.6 566.8L396.6 581.7L396.6 596.6L396.6 611.5L396.6 626.4L396.6 641.3L396.6 656.2L396.6 671.1L396.6 686L396.6 700.9L396.6 715.8L396.6 730.7L396.6 745.6L396.6 760.5M432.9 155.2L432.9 170.2L432.8 185.2L432.8 200.2L432.8 215.2L432.8 230.2L432.8 245.2L432.9 260.2L432.9 275.2L433 290.2L433.3 305.2L433.6 320.2L433.8 335.2L433.8 350.2L433.8 365.2L433.4 380.2L432 394.8L430.5 409.4L428.9 424.1L426.9 438.7L424.5 453.3L422.3 467.9L420.2 482.5L418.2 497.2L415.4 511.8L412.9 526.4L411.7 541.3L411.1 556.2L410.9 571.1L410.9 586L411 600.9L411 615.8L411 630.7L411 645.6L411 660.5L411.1 675.4L411.1 690.3L411.1 705.2L411.2 720.1L411.2 735L411.2 749.9L411.3 764.8M447.6 159.5L447.5 174.5L447.5 189.5L447.4 204.5L447.4 219.5L447.5 234.5L447.5 249.5L447.6 264.5L447.7 279.5L447.8 294.5L448.2 309.5L448.6 324.5L448.9 339.5L448.9 354.5L449 369.5L448.7 384.5L447.1 399.1L445.5 413.7L443.8 428.4L441.7 443L439.1 457.6L436.8 472.2L434.6 486.8L432.6 501.5L429.9 516.1L427.4 530.7L426.1 545.6L425.3 560.5L425.2 575.4L425.2 590.3L425.3 605.2L425.3 620.1L425.4 635L425.4 649.9L425.5 664.8L425.5 679.7L425.6 694.6L425.7 709.5L425.7 724.4L425.8 739.3L425.8 754.2L425.9 769.1M462.2 163.8L462.2 178.8L462.1 193.8L462.1 208.8L462.1 223.8L462.1 238.8L462.2 253.8L462.3 268.8L462.5 283.8L462.7 298.8L463.1 313.8L463.6 328.8L464 343.8L464.1 358.8L464.3 373.8L464 388.8L462.3 403.4L460.5 418L458.7 432.7L456.5 447.3L453.7 461.9L451.3 476.5L449 491.1L447 505.8L444.4 520.4L441.9 535L440.4 549.9L439.6 564.8L439.5 579.7L439.5 594.6L439.6 609.5L439.7 624.4L439.8 639.3L439.9 654.2L439.9 669.1L440 684L440.1 698.9L440.2 713.8L440.3 728.7L440.3 743.6L440.4 758.5L440.5 773.4M476.9 168.1L476.8 183.1L476.7 198.1L476.7 213.1L476.8 228.1L476.8 243.1L476.9 258.1L477.1 273.1L477.3 288.1L477.5 303.1L478 318.1L478.6 333.1L479 348.1L479.2 363.1L479.6 378.1L479.3 393.1L477.4 407.7L475.6 422.3L473.6 437L471.2 451.6L468.3 466.2L465.7 480.8L463.5 495.4L461.4 510.1L458.8 524.7L456.4 539.3L454.8 554.2L453.9 569.1L453.7 584L453.8 598.9L454 613.8L454.1 628.7L454.2 643.6L454.3 658.5L454.4 673.4L454.5 688.3L454.6 703.2L454.7 718.1L454.8 733L454.9 747.9L455 762.8L455.1 777.7M491.5 172.4L491.4 187.4L491.4 202.4L491.4 217.4L491.4 232.4L491.5 247.4L491.6 262.4L491.8 277.4L492 292.4L492.3 307.4L492.9 322.4L493.7 337.4L494.1 352.4L494.4 367.4L494.8 382.4L494.5 397.4L492.6 412L490.6 426.6L488.5 441.3L486 455.9L482.8 470.5L480.2 485.1L477.9 499.7L475.8 514.4L473.3 529L470.9 543.6L469.1 558.5L468.1 573.4L468 588.3L468.1 603.2L468.3 618.1L468.4 633L468.6 647.9L468.7 662.8L468.9 677.7L469 692.6L469.1 707.5L469.2 722.4L469.4 737.3L469.5 752.2L469.6 767.1L469.7 782M506.2 176.7L506.1 191.7L506 206.7L506 221.7L506.1 236.7L506.2 251.7L506.4 266.7L506.6 281.7L506.8 296.7L507.1 311.7L507.8 326.7L508.7 341.7L509.2 356.7L509.6 371.7L510.1 386.7L509.8 401.7L507.7 416.3L505.6 430.9L503.5 445.6L500.8 460.2L497.4 474.8L494.7 489.4L492.3 504L490.1 518.7L487.8 533.3L485.4 547.9L483.4 562.8L482.4 577.7L482.3 592.6L482.4 607.5L482.7 622.4L482.8 637.3L483 652.2L483.1 667.1L483.3 682L483.5 696.9L483.6 711.8L483.8 726.7L483.9 741.6L484.1 756.5L484.2 771.4L484.3 786.3" fill="none" stroke="#000" stroke-width="1.05" stroke-linejoin="round"/><path d="M456 222L464.7 214.5L473.4 207.1L482.1 199.6L490.8 192.1L499.5 184.7L508.2 177.2L516.9 169.7L525.6 162.3L534.3 154.8L543 147.3L551.7 139.9L560.4 132.4L560.4 147.4L560.4 162.4L560.5 177.4L560.5 192.4L560.6 207.4L560.7 222.4L560.7 237.4L560.9 252.4L561 267.4L561.2 282.4L561.7 297.4L562.5 312.4L563.3 327.4L564.5 342.4L564.9 357.4L563.8 372L562.2 386.6L559.7 401.3L556.8 415.9L553.9 430.5L550.7 445.1L547.7 459.7L545.4 474.4L543.3 489L541.7 503.6L540.6 518.5L539.8 533.4L539.2 548.3L539 563.2L538.9 578.1L538.8 593L538.7 607.9L538.7 622.8L538.6 637.7L538.6 652.6L538.6 667.5L538.6 682.4L538.6 697.3L538.6 712.2L538.6 727.1L538.6 742L529.9 749.5L521.2 756.9L512.5 764.4L503.7 771.9L495 779.3L486.3 786.8L477.6 794.3L468.9 801.7L460.1 809.2L451.4 816.7L442.7 824.1L434 831.6L433.8 816.7L433.5 801.8L433.2 786.9L433 772L432.6 757.1L432.3 742.2L432 727.3L431.6 712.4L431.2 697.5L430.8 682.6L430.4 667.7L429.9 652.8L429.3 637.9L429 623L430.3 608.1L433.1 593.2L436.4 578.6L438.9 564L440.8 549.3L442.7 534.7L445 520.1L448.8 505.5L451.2 490.9L453.1 476.2L455.7 461.6L458.8 447L459.7 432L459.9 417L460 402L459.6 387L458.4 372L457.3 357L456.8 342L456.4 327L456.1 312L455.8 297L455.6 282L455.6 267L455.7 252L455.8 237Z" fill="#d4d4d4"/><clipPath id="crf"><path d="M456 222L464.7 214.5L473.4 207.1L482.1 199.6L490.8 192.1L499.5 184.7L508.2 177.2L516.9 169.7L525.6 162.3L534.3 154.8L543 147.3L551.7 139.9L560.4 132.4L560.4 147.4L560.4 162.4L560.5 177.4L560.5 192.4L560.6 207.4L560.7 222.4L560.7 237.4L560.9 252.4L561 267.4L561.2 282.4L561.7 297.4L562.5 312.4L563.3 327.4L564.5 342.4L564.9 357.4L563.8 372L562.2 386.6L559.7 401.3L556.8 415.9L553.9 430.5L550.7 445.1L547.7 459.7L545.4 474.4L543.3 489L541.7 503.6L540.6 518.5L539.8 533.4L539.2 548.3L539 563.2L538.9 578.1L538.8 593L538.7 607.9L538.7 622.8L538.6 637.7L538.6 652.6L538.6 667.5L538.6 682.4L538.6 697.3L538.6 712.2L538.6 727.1L538.6 742L529.9 749.5L521.2 756.9L512.5 764.4L503.7 771.9L495 779.3L486.3 786.8L477.6 794.3L468.9 801.7L460.1 809.2L451.4 816.7L442.7 824.1L434 831.6L433.8 816.7L433.5 801.8L433.2 786.9L433 772L432.6 757.1L432.3 742.2L432 727.3L431.6 712.4L431.2 697.5L430.8 682.6L430.4 667.7L429.9 652.8L429.3 637.9L429 623L430.3 608.1L433.1 593.2L436.4 578.6L438.9 564L440.8 549.3L442.7 534.7L445 520.1L448.8 505.5L451.2 490.9L453.1 476.2L455.7 461.6L458.8 447L459.7 432L459.9 417L460 402L459.6 387L458.4 372L457.3 357L456.8 342L456.4 327L456.1 312L455.8 297L455.6 282L455.6 267L455.7 252L455.8 237Z"/></clipPath><g clip-path="url(#crf)"><path d="M458 436L472 420L486 406L494 397L500 392L501.6 367L504 360L511 355.6L514 361L517.6 378L523 374L538 361L554 350L563 344L572 340L572 360L464 452Z" fill="#8c8ce6"/><path d="M508.4 373L511.5 381L516 391L518 397L511 404L502.6 404L505 388Z" fill="#4040e6"/><path d="M426 632L430 612L436 600L450 587L470 568L483 551L488 534L496 538L494 566L474 582L440 612L428 628Z" fill="#8c8ce6"/><path d="M484 556L488 542L492 546L490 562Z" fill="#4040e6"/></g><path d="M456 222L464.7 214.5L473.4 207.1L482.1 199.6L490.8 192.1L499.5 184.7L508.2 177.2L516.9 169.7L525.6 162.3L534.3 154.8L543 147.3L551.7 139.9L560.4 132.4M455.8 237L464.5 229.5L473.2 222.1L481.9 214.6L490.7 207.1L499.4 199.7L508.1 192.2L516.8 184.7L525.5 177.3L534.3 169.8L543 162.3L551.7 154.9L560.4 147.4M455.7 252L464.4 244.5L473.1 237.1L481.8 229.6L490.6 222.1L499.3 214.7L508 207.2L516.8 199.7L525.5 192.3L534.2 184.8L543 177.3L551.7 169.9L560.4 162.4M455.6 267L464.3 259.5L473.1 252.1L481.8 244.6L490.6 237.1L499.3 229.7L508 222.2L516.8 214.7L525.5 207.3L534.2 199.8L543 192.3L551.7 184.9L560.5 177.4M455.6 282L464.4 274.5L473.1 267.1L481.9 259.6L490.6 252.1L499.3 244.7L508.1 237.2L516.8 229.7L525.6 222.3L534.3 214.8L543 207.3L551.8 199.9L560.5 192.4M455.8 297L464.5 289.5L473.3 282.1L482 274.6L490.7 267.1L499.5 259.7L508.2 252.2L516.9 244.7L525.7 237.3L534.4 229.8L543.1 222.3L551.8 214.9L560.6 207.4M456.1 312L464.8 304.5L473.5 297.1L482.2 289.6L490.9 282.1L499.6 274.7L508.4 267.2L517.1 259.7L525.8 252.3L534.5 244.8L543.2 237.3L551.9 229.9L560.7 222.4M456.4 327L465.1 319.5L473.8 312.1L482.5 304.6L491.2 297.1L499.9 289.7L508.6 282.2L517.3 274.7L526 267.3L534.7 259.8L543.4 252.3L552.1 244.9L560.7 237.4M456.8 342L465.5 334.5L474.1 327.1L482.8 319.6L491.5 312.1L500.1 304.7L508.8 297.2L517.5 289.7L526.2 282.3L534.8 274.8L543.5 267.3L552.2 259.9L560.9 252.4M457.3 357L465.9 349.5L474.6 342.1L483.2 334.6L491.9 327.1L500.5 319.7L509.1 312.2L517.8 304.7L526.4 297.3L535.1 289.8L543.7 282.3L552.3 274.9L561 267.4M458.4 372L467 364.5L475.6 357.1L484.1 349.6L492.7 342.1L501.3 334.7L509.8 327.2L518.4 319.7L527 312.3L535.5 304.8L544.1 297.3L552.7 289.9L561.2 282.4M459.6 387L468.1 379.5L476.6 372.1L485.1 364.6L493.6 357.1L502.1 349.7L510.7 342.2L519.2 334.7L527.7 327.3L536.2 319.8L544.7 312.3L553.2 304.9L561.7 297.4M460 402L468.5 394.5L477.1 387.1L485.6 379.6L494.2 372.1L502.7 364.7L511.2 357.2L519.8 349.7L528.3 342.3L536.8 334.8L545.4 327.3L553.9 319.9L562.5 312.4M459.9 417L468.5 409.5L477.1 402.1L485.7 394.6L494.3 387.1L503 379.7L511.6 372.2L520.2 364.7L528.8 357.3L537.4 349.8L546 342.3L554.6 334.9L563.3 327.4M459.7 432L468.4 424.5L477.1 417.1L485.9 409.6L494.6 402.1L503.3 394.7L512.1 387.2L520.8 379.7L529.5 372.3L538.3 364.8L547 357.3L555.7 349.9L564.5 342.4M458.8 447L467.6 439.5L476.5 432.1L485.3 424.6L494.2 417.1L503 409.7L511.8 402.2L520.7 394.7L529.5 387.3L538.4 379.8L547.2 372.3L556 364.9L564.9 357.4M455.7 461.6L464.7 454.2L473.7 446.7L482.7 439.2L491.7 431.8L500.7 424.3L509.7 416.8L518.8 409.4L527.8 401.9L536.8 394.4L545.8 387L554.8 379.5L563.8 372M453.1 476.2L462.2 468.8L471.3 461.3L480.4 453.8L489.5 446.4L498.5 438.9L507.6 431.4L516.7 424L525.8 416.5L534.9 409L544 401.6L553.1 394.1L562.2 386.6M451.2 490.9L460.2 483.4L469.3 475.9L478.3 468.5L487.4 461L496.4 453.5L505.5 446.1L514.5 438.6L523.5 431.1L532.6 423.7L541.6 416.2L550.7 408.7L559.7 401.3M448.8 505.5L457.8 498L466.8 490.5L475.8 483.1L484.8 475.6L493.8 468.1L502.8 460.7L511.8 453.2L520.8 445.7L529.8 438.3L538.8 430.8L547.8 423.3L556.8 415.9M445 520.1L454.1 512.6L463.1 505.2L472.2 497.7L481.3 490.2L490.4 482.8L499.4 475.3L508.5 467.8L517.6 460.4L526.7 452.9L535.7 445.4L544.8 438L553.9 430.5M442.7 534.7L451.7 527.3L460.7 519.8L469.7 512.3L478.7 504.9L487.7 497.4L496.7 489.9L505.7 482.5L514.7 475L523.7 467.5L532.7 460.1L541.7 452.6L550.7 445.1M440.8 549.3L449.7 541.9L458.7 534.4L467.6 526.9L476.5 519.5L485.4 512L494.3 504.5L503.2 497.1L512.1 489.6L521 482.1L529.9 474.7L538.8 467.2L547.7 459.7M438.9 564L447.8 556.5L456.7 549L465.5 541.6L474.4 534.1L483.3 526.6L492.1 519.2L501 511.7L509.9 504.2L518.8 496.8L527.6 489.3L536.5 481.8L545.4 474.4M436.4 578.6L445.3 571.1L454.2 563.6L463.1 556.2L472 548.7L480.9 541.2L489.8 533.8L498.8 526.3L507.7 518.8L516.6 511.4L525.5 503.9L534.4 496.4L543.3 489M433.1 593.2L442.2 585.7L451.2 578.3L460.3 570.8L469.3 563.3L478.3 555.9L487.4 548.4L496.4 540.9L505.5 533.5L514.5 526L523.6 518.5L532.6 511.1L541.7 503.6M430.3 608.1L439.5 600.6L448.7 593.2L457.9 585.7L467 578.2L476.2 570.8L485.4 563.3L494.6 555.8L503.8 548.4L513 540.9L522.2 533.4L531.4 526L540.6 518.5M429 623L438.2 615.5L447.5 608.1L456.7 600.6L465.9 593.1L475.2 585.7L484.4 578.2L493.6 570.7L502.9 563.3L512.1 555.8L521.3 548.3L530.6 540.9L539.8 533.4M429.3 637.9L438.5 630.4L447.7 623L456.8 615.5L466 608L475.1 600.6L484.3 593.1L493.4 585.6L502.6 578.2L511.7 570.7L520.9 563.2L530.1 555.8L539.2 548.3M429.9 652.8L439 645.3L448.1 637.9L457.2 630.4L466.3 622.9L475.3 615.5L484.4 608L493.5 600.5L502.6 593.1L511.7 585.6L520.8 578.1L529.9 570.7L539 563.2M430.4 667.7L439.5 660.2L448.5 652.8L457.5 645.3L466.6 637.8L475.6 630.4L484.7 622.9L493.7 615.4L502.7 608L511.8 600.5L520.8 593L529.8 585.6L538.9 578.1M430.8 682.6L439.8 675.1L448.8 667.7L457.8 660.2L466.8 652.7L475.8 645.3L484.8 637.8L493.8 630.3L502.8 622.9L511.8 615.4L520.8 607.9L529.8 600.5L538.8 593M431.2 697.5L440.2 690L449.2 682.6L458.1 675.1L467.1 667.6L476 660.2L485 652.7L493.9 645.2L502.9 637.8L511.9 630.3L520.8 622.8L529.8 615.4L538.7 607.9M431.6 712.4L440.5 704.9L449.5 697.5L458.4 690L467.3 682.5L476.2 675.1L485.1 667.6L494.1 660.1L503 652.7L511.9 645.2L520.8 637.7L529.8 630.3L538.7 622.8M432 727.3L440.9 719.8L449.8 712.4L458.6 704.9L467.5 697.4L476.4 690L485.3 682.5L494.2 675L503.1 667.6L512 660.1L520.9 652.6L529.7 645.2L538.6 637.7M432.3 742.2L441.2 734.7L450 727.3L458.9 719.8L467.8 712.3L476.6 704.9L485.5 697.4L494.3 689.9L503.2 682.5L512 675L520.9 667.5L529.8 660.1L538.6 652.6M432.6 757.1L441.5 749.6L450.3 742.2L459.1 734.7L468 727.2L476.8 719.8L485.6 712.3L494.5 704.8L503.3 697.4L512.1 689.9L520.9 682.4L529.8 675L538.6 667.5M433 772L441.8 764.5L450.6 757.1L459.4 749.6L468.2 742.1L477 734.7L485.8 727.2L494.6 719.7L503.4 712.3L512.2 704.8L521 697.3L529.8 689.9L538.6 682.4M433.2 786.9L442 779.4L450.8 772L459.6 764.5L468.4 757L477.1 749.6L485.9 742.1L494.7 734.6L503.5 727.2L512.3 719.7L521 712.2L529.8 704.8L538.6 697.3M433.5 801.8L442.3 794.3L451 786.9L459.8 779.4L468.5 771.9L477.3 764.5L486.1 757L494.8 749.5L503.6 742.1L512.3 734.6L521.1 727.1L529.8 719.7L538.6 712.2M433.8 816.7L442.5 809.2L451.2 801.8L460 794.3L468.7 786.8L477.4 779.4L486.2 771.9L494.9 764.4L503.7 757L512.4 749.5L521.1 742L529.9 734.6L538.6 727.1M434 831.6L442.7 824.1L451.4 816.7L460.1 809.2L468.9 801.7L477.6 794.3L486.3 786.8L495 779.3L503.7 771.9L512.5 764.4L521.2 756.9L529.9 749.5L538.6 742M456 222L455.8 237L455.7 252L455.6 267L455.6 282L455.8 297L456.1 312L456.4 327L456.8 342L457.3 357L458.4 372L459.6 387L460 402L459.9 417L459.7 432L458.8 447L455.7 461.6L453.1 476.2L451.2 490.9L448.8 505.5L445 520.1L442.7 534.7L440.8 549.3L438.9 564L436.4 578.6L433.1 593.2L430.3 608.1L429 623L429.3 637.9L429.9 652.8L430.4 667.7L430.8 682.6L431.2 697.5L431.6 712.4L432 727.3L432.3 742.2L432.6 757.1L433 772L433.2 786.9L433.5 801.8L433.8 816.7L434 831.6M464.7 214.5L464.5 229.5L464.4 244.5L464.3 259.5L464.4 274.5L464.5 289.5L464.8 304.5L465.1 319.5L465.5 334.5L465.9 349.5L467 364.5L468.1 379.5L468.5 394.5L468.5 409.5L468.4 424.5L467.6 439.5L464.7 454.2L462.2 468.8L460.2 483.4L457.8 498L454.1 512.6L451.7 527.3L449.7 541.9L447.8 556.5L445.3 571.1L442.2 585.7L439.5 600.6L438.2 615.5L438.5 630.4L439 645.3L439.5 660.2L439.8 675.1L440.2 690L440.5 704.9L440.9 719.8L441.2 734.7L441.5 749.6L441.8 764.5L442 779.4L442.3 794.3L442.5 809.2L442.7 824.1M473.4 207.1L473.2 222.1L473.1 237.1L473.1 252.1L473.1 267.1L473.3 282.1L473.5 297.1L473.8 312.1L474.1 327.1L474.6 342.1L475.6 357.1L476.6 372.1L477.1 387.1L477.1 402.1L477.1 417.1L476.5 432.1L473.7 446.7L471.3 461.3L469.3 475.9L466.8 490.5L463.1 505.2L460.7 519.8L458.7 534.4L456.7 549L454.2 563.6L451.2 578.3L448.7 593.2L447.5 608.1L447.7 623L448.1 637.9L448.5 652.8L448.8 667.7L449.2 682.6L449.5 697.5L449.8 712.4L450 727.3L450.3 742.2L450.6 757.1L450.8 772L451 786.9L451.2 801.8L451.4 816.7M482.1 199.6L481.9 214.6L481.8 229.6L481.8 244.6L481.9 259.6L482 274.6L482.2 289.6L482.5 304.6L482.8 319.6L483.2 334.6L484.1 349.6L485.1 364.6L485.6 379.6L485.7 394.6L485.9 409.6L485.3 424.6L482.7 439.2L480.4 453.8L478.3 468.5L475.8 483.1L472.2 497.7L469.7 512.3L467.6 526.9L465.5 541.6L463.1 556.2L460.3 570.8L457.9 585.7L456.7 600.6L456.8 615.5L457.2 630.4L457.5 645.3L457.8 660.2L458.1 675.1L458.4 690L458.6 704.9L458.9 719.8L459.1 734.7L459.4 749.6L459.6 764.5L459.8 779.4L460 794.3L460.1 809.2M490.8 192.1L490.7 207.1L490.6 222.1L490.6 237.1L490.6 252.1L490.7 267.1L490.9 282.1L491.2 297.1L491.5 312.1L491.9 327.1L492.7 342.1L493.6 357.1L494.2 372.1L494.3 387.1L494.6 402.1L494.2 417.1L491.7 431.8L489.5 446.4L487.4 461L484.8 475.6L481.3 490.2L478.7 504.9L476.5 519.5L474.4 534.1L472 548.7L469.3 563.3L467 578.2L465.9 593.1L466 608L466.3 622.9L466.6 637.8L466.8 652.7L467.1 667.6L467.3 682.5L467.5 697.4L467.8 712.3L468 727.2L468.2 742.1L468.4 757L468.5 771.9L468.7 786.8L468.9 801.7M499.5 184.7L499.4 199.7L499.3 214.7L499.3 229.7L499.3 244.7L499.5 259.7L499.6 274.7L499.9 289.7L500.1 304.7L500.5 319.7L501.3 334.7L502.1 349.7L502.7 364.7L503 379.7L503.3 394.7L503 409.7L500.7 424.3L498.5 438.9L496.4 453.5L493.8 468.1L490.4 482.8L487.7 497.4L485.4 512L483.3 526.6L480.9 541.2L478.3 555.9L476.2 570.8L475.2 585.7L475.1 600.6L475.3 615.5L475.6 630.4L475.8 645.3L476 660.2L476.2 675.1L476.4 690L476.6 704.9L476.8 719.8L477 734.7L477.1 749.6L477.3 764.5L477.4 779.4L477.6 794.3M508.2 177.2L508.1 192.2L508 207.2L508 222.2L508.1 237.2L508.2 252.2L508.4 267.2L508.6 282.2L508.8 297.2L509.1 312.2L509.8 327.2L510.7 342.2L511.2 357.2L511.6 372.2L512.1 387.2L511.8 402.2L509.7 416.8L507.6 431.4L505.5 446.1L502.8 460.7L499.4 475.3L496.7 489.9L494.3 504.5L492.1 519.2L489.8 533.8L487.4 548.4L485.4 563.3L484.4 578.2L484.3 593.1L484.4 608L484.7 622.9L484.8 637.8L485 652.7L485.1 667.6L485.3 682.5L485.5 697.4L485.6 712.3L485.8 727.2L485.9 742.1L486.1 757L486.2 771.9L486.3 786.8M516.9 169.7L516.8 184.7L516.8 199.7L516.8 214.7L516.8 229.7L516.9 244.7L517.1 259.7L517.3 274.7L517.5 289.7L517.8 304.7L518.4 319.7L519.2 334.7L519.8 349.7L520.2 364.7L520.8 379.7L520.7 394.7L518.8 409.4L516.7 424L514.5 438.6L511.8 453.2L508.5 467.8L505.7 482.5L503.2 497.1L501 511.7L498.8 526.3L496.4 540.9L494.6 555.8L493.6 570.7L493.4 585.6L493.5 600.5L493.7 615.4L493.8 630.3L493.9 645.2L494.1 660.1L494.2 675L494.3 689.9L494.5 704.8L494.6 719.7L494.7 734.6L494.8 749.5L494.9 764.4L495 779.3M525.6 162.3L525.5 177.3L525.5 192.3L525.5 207.3L525.6 222.3L525.7 237.3L525.8 252.3L526 267.3L526.2 282.3L526.4 297.3L527 312.3L527.7 327.3L528.3 342.3L528.8 357.3L529.5 372.3L529.5 387.3L527.8 401.9L525.8 416.5L523.5 431.1L520.8 445.7L517.6 460.4L514.7 475L512.1 489.6L509.9 504.2L507.7 518.8L505.5 533.5L503.8 548.4L502.9 563.3L502.6 578.2L502.6 593.1L502.7 608L502.8 622.9L502.9 637.8L503 652.7L503.1 667.6L503.2 682.5L503.3 697.4L503.4 712.3L503.5 727.2L503.6 742.1L503.7 757L503.7 771.9M534.3 154.8L534.3 169.8L534.2 184.8L534.2 199.8L534.3 214.8L534.4 229.8L534.5 244.8L534.7 259.8L534.8 274.8L535.1 289.8L535.5 304.8L536.2 319.8L536.8 334.8L537.4 349.8L538.3 364.8L538.4 379.8L536.8 394.4L534.9 409L532.6 423.7L529.8 438.3L526.7 452.9L523.7 467.5L521 482.1L518.8 496.8L516.6 511.4L514.5 526L513 540.9L512.1 555.8L511.7 570.7L511.7 585.6L511.8 600.5L511.8 615.4L511.9 630.3L511.9 645.2L512 660.1L512 675L512.1 689.9L512.2 704.8L512.3 719.7L512.3 734.6L512.4 749.5L512.5 764.4M543 147.3L543 162.3L543 177.3L543 192.3L543 207.3L543.1 222.3L543.2 237.3L543.4 252.3L543.5 267.3L543.7 282.3L544.1 297.3L544.7 312.3L545.4 327.3L546 342.3L547 357.3L547.2 372.3L545.8 387L544 401.6L541.6 416.2L538.8 430.8L535.7 445.4L532.7 460.1L529.9 474.7L527.6 489.3L525.5 503.9L523.6 518.5L522.2 533.4L521.3 548.3L520.9 563.2L520.8 578.1L520.8 593L520.8 607.9L520.8 622.8L520.8 637.7L520.9 652.6L520.9 667.5L520.9 682.4L521 697.3L521 712.2L521.1 727.1L521.1 742L521.2 756.9M551.7 139.9L551.7 154.9L551.7 169.9L551.7 184.9L551.8 199.9L551.8 214.9L551.9 229.9L552.1 244.9L552.2 259.9L552.3 274.9L552.7 289.9L553.2 304.9L553.9 319.9L554.6 334.9L555.7 349.9L556 364.9L554.8 379.5L553.1 394.1L550.7 408.7L547.8 423.3L544.8 438L541.7 452.6L538.8 467.2L536.5 481.8L534.4 496.4L532.6 511.1L531.4 526L530.6 540.9L530.1 555.8L529.9 570.7L529.8 585.6L529.8 600.5L529.8 615.4L529.8 630.3L529.7 645.2L529.8 660.1L529.8 675L529.8 689.9L529.8 704.8L529.8 719.7L529.9 734.6L529.9 749.5M560.4 132.4L560.4 147.4L560.4 162.4L560.5 177.4L560.5 192.4L560.6 207.4L560.7 222.4L560.7 237.4L560.9 252.4L561 267.4L561.2 282.4L561.7 297.4L562.5 312.4L563.3 327.4L564.5 342.4L564.9 357.4L563.8 372L562.2 386.6L559.7 401.3L556.8 415.9L553.9 430.5L550.7 445.1L547.7 459.7L545.4 474.4L543.3 489L541.7 503.6L540.6 518.5L539.8 533.4L539.2 548.3L539 563.2L538.9 578.1L538.8 593L538.7 607.9L538.7 622.8L538.6 637.7L538.6 652.6L538.6 667.5L538.6 682.4L538.6 697.3L538.6 712.2L538.6 727.1L538.6 742" fill="none" stroke="#000" stroke-width="1.05" stroke-linejoin="round"/><path d="M438.4 606L446.9 598.8L455.4 591.7L463.9 584.5L472.4 577.3L480.9 570.2L489.4 563L497.9 555.8L506.4 548.7L514.9 541.5L523.4 534.3L531.9 527.2L540.4 520L555.5 526.6L570.6 533.3L585.6 539.9L600.7 546.5L615.8 553.1L630.9 559.8L646 566.4L661 573L676.1 579.6L691.2 586.3L706.3 592.9L721.4 599.5L736.4 606.1L751.5 612.8L766.6 619.4L757.9 627L749.1 634.5L740.4 642L731.6 649.6L722.9 657.1L714.1 664.7L705.3 672.2L696.6 679.8L687.9 687.4L679.1 694.9L670.4 702.4L661.6 710L646.7 703.1L631.8 696.1L617 689.2L602.1 682.3L587.2 675.3L572.3 668.4L557.4 661.5L542.6 654.5L527.7 647.6L512.8 640.7L497.9 633.7L483 626.8L468.2 619.9L453.3 612.9Z" fill="#d4d4d4"/><path d="M438.4 606L446.9 598.8L455.4 591.7L463.9 584.5L472.4 577.3L480.9 570.2L489.4 563L497.9 555.8L506.4 548.7L514.9 541.5L523.4 534.3L531.9 527.2L540.4 520M453.3 612.9L461.8 605.7L470.3 598.5L478.8 591.4L487.3 584.2L495.9 577L504.4 569.8L512.9 562.6L521.4 555.4L529.9 548.2L538.4 541L547 533.8L555.5 526.6M468.2 619.9L476.7 612.6L485.2 605.4L493.8 598.2L502.3 591L510.8 583.8L519.4 576.6L527.9 569.3L536.4 562.1L545 554.9L553.5 547.7L562 540.5L570.6 533.3M483 626.8L491.6 619.6L500.1 612.3L508.7 605.1L517.2 597.8L525.8 590.6L534.3 583.3L542.9 576.1L551.4 568.9L560 561.6L568.5 554.4L577.1 547.1L585.6 539.9M497.9 633.7L506.5 626.5L515.1 619.2L523.6 611.9L532.2 604.7L540.8 597.4L549.3 590.1L557.9 582.9L566.5 575.6L575 568.3L583.6 561L592.2 553.8L600.7 546.5M512.8 640.7L521.4 633.4L530 626.1L538.5 618.8L547.1 611.5L555.7 604.2L564.3 596.9L572.9 589.6L581.5 582.3L590 575L598.6 567.7L607.2 560.4L615.8 553.1M527.7 647.6L536.3 640.3L544.9 633L553.5 625.6L562.1 618.3L570.7 611L579.3 603.7L587.9 596.4L596.5 589L605.1 581.7L613.7 574.4L622.3 567.1L630.9 559.8M542.6 654.5L551.2 647.2L559.8 639.8L568.4 632.5L577 625.2L585.6 617.8L594.3 610.5L602.9 603.1L611.5 595.8L620.1 588.4L628.7 581.1L637.3 573.7L646 566.4M557.4 661.5L566.1 654.1L574.7 646.7L583.3 639.4L592 632L600.6 624.6L609.2 617.2L617.9 609.9L626.5 602.5L635.1 595.1L643.8 587.8L652.4 580.4L661 573M572.3 668.4L581 661L589.6 653.6L598.3 646.2L606.9 638.8L615.6 631.4L624.2 624L632.9 616.6L641.5 609.2L650.2 601.8L658.8 594.4L667.5 587L676.1 579.6M587.2 675.3L595.9 667.9L604.5 660.5L613.2 653.1L621.9 645.6L630.5 638.2L639.2 630.8L647.9 623.4L656.5 616L665.2 608.5L673.9 601.1L682.5 593.7L691.2 586.3M602.1 682.3L610.8 674.8L619.4 667.4L628.1 659.9L636.8 652.5L645.5 645L654.2 637.6L662.9 630.1L671.5 622.7L680.2 615.2L688.9 607.8L697.6 600.3L706.3 592.9M617 689.2L625.7 681.7L634.4 674.3L643.1 666.8L651.8 659.3L660.5 651.8L669.2 644.4L677.9 636.9L686.6 629.4L695.3 621.9L704 614.5L712.7 607L721.4 599.5M631.8 696.1L640.6 688.6L649.3 681.1L658 673.6L666.7 666.1L675.4 658.6L684.1 651.1L692.9 643.6L701.6 636.1L710.3 628.6L719 621.1L727.7 613.6L736.4 606.1M646.7 703.1L655.5 695.5L664.2 688L672.9 680.5L681.7 673L690.4 665.4L699.1 657.9L707.9 650.4L716.6 642.9L725.3 635.3L734.1 627.8L742.8 620.3L751.5 612.8M661.6 710L670.4 702.4L679.1 694.9L687.9 687.4L696.6 679.8L705.3 672.2L714.1 664.7L722.9 657.1L731.6 649.6L740.4 642L749.1 634.5L757.9 627L766.6 619.4M438.4 606L453.3 612.9L468.2 619.9L483 626.8L497.9 633.7L512.8 640.7L527.7 647.6L542.6 654.5L557.4 661.5L572.3 668.4L587.2 675.3L602.1 682.3L617 689.2L631.8 696.1L646.7 703.1L661.6 710M446.9 598.8L461.8 605.7L476.7 612.6L491.6 619.6L506.5 626.5L521.4 633.4L536.3 640.3L551.2 647.2L566.1 654.1L581 661L595.9 667.9L610.8 674.8L625.7 681.7L640.6 688.6L655.5 695.5L670.4 702.4M455.4 591.7L470.3 598.5L485.2 605.4L500.1 612.3L515.1 619.2L530 626.1L544.9 633L559.8 639.8L574.7 646.7L589.6 653.6L604.5 660.5L619.4 667.4L634.4 674.3L649.3 681.1L664.2 688L679.1 694.9M463.9 584.5L478.8 591.4L493.8 598.2L508.7 605.1L523.6 611.9L538.5 618.8L553.5 625.6L568.4 632.5L583.3 639.4L598.3 646.2L613.2 653.1L628.1 659.9L643.1 666.8L658 673.6L672.9 680.5L687.9 687.4M472.4 577.3L487.3 584.2L502.3 591L517.2 597.8L532.2 604.7L547.1 611.5L562.1 618.3L577 625.2L592 632L606.9 638.8L621.9 645.6L636.8 652.5L651.8 659.3L666.7 666.1L681.7 673L696.6 679.8M480.9 570.2L495.9 577L510.8 583.8L525.8 590.6L540.8 597.4L555.7 604.2L570.7 611L585.6 617.8L600.6 624.6L615.6 631.4L630.5 638.2L645.5 645L660.5 651.8L675.4 658.6L690.4 665.4L705.3 672.2M489.4 563L504.4 569.8L519.4 576.6L534.3 583.3L549.3 590.1L564.3 596.9L579.3 603.7L594.3 610.5L609.2 617.2L624.2 624L639.2 630.8L654.2 637.6L669.2 644.4L684.1 651.1L699.1 657.9L714.1 664.7M497.9 555.8L512.9 562.6L527.9 569.3L542.9 576.1L557.9 582.9L572.9 589.6L587.9 596.4L602.9 603.1L617.9 609.9L632.9 616.6L647.9 623.4L662.9 630.1L677.9 636.9L692.9 643.6L707.9 650.4L722.9 657.1M506.4 548.7L521.4 555.4L536.4 562.1L551.4 568.9L566.5 575.6L581.5 582.3L596.5 589L611.5 595.8L626.5 602.5L641.5 609.2L656.5 616L671.5 622.7L686.6 629.4L701.6 636.1L716.6 642.9L731.6 649.6M514.9 541.5L529.9 548.2L545 554.9L560 561.6L575 568.3L590 575L605.1 581.7L620.1 588.4L635.1 595.1L650.2 601.8L665.2 608.5L680.2 615.2L695.3 621.9L710.3 628.6L725.3 635.3L740.4 642M523.4 534.3L538.4 541L553.5 547.7L568.5 554.4L583.6 561L598.6 567.7L613.7 574.4L628.7 581.1L643.8 587.8L658.8 594.4L673.9 601.1L688.9 607.8L704 614.5L719 621.1L734.1 627.8L749.1 634.5M531.9 527.2L547 533.8L562 540.5L577.1 547.1L592.2 553.8L607.2 560.4L622.3 567.1L637.3 573.7L652.4 580.4L667.5 587L682.5 593.7L697.6 600.3L712.7 607L727.7 613.6L742.8 620.3L757.9 627M540.4 520L555.5 526.6L570.6 533.3L585.6 539.9L600.7 546.5L615.8 553.1L630.9 559.8L646 566.4L661 573L676.1 579.6L691.2 586.3L706.3 592.9L721.4 599.5L736.4 606.1L751.5 612.8L766.6 619.4" fill="none" stroke="#000" stroke-width="1.05" stroke-linejoin="round"/><path d="M436.2 602.6L444.7 595.4L447.1 598.6L438.6 605.8Z" fill="#dadada" stroke="#000" stroke-width="0.9" stroke-linejoin="round"/><path d="M444.7 595.4L453.2 588.3L455.6 591.5L447.1 598.6Z" fill="#dadada" stroke="#000" stroke-width="0.9" stroke-linejoin="round"/><path d="M453.2 588.3L461.7 581.1L464.1 584.3L455.6 591.5Z" fill="#dadada" stroke="#000" stroke-width="0.9" stroke-linejoin="round"/><path d="M461.7 581.1L470.2 573.9L472.6 577.1L464.1 584.3Z" fill="#dadada" stroke="#000" stroke-width="0.9" stroke-linejoin="round"/><path d="M470.2 573.9L478.7 566.8L481.1 570L472.6 577.1Z" fill="#00beff" stroke="#000" stroke-width="0.9" stroke-linejoin="round"/><path d="M478.7 566.8L487.2 559.6L489.6 562.8L481.1 570Z" fill="#82aa00" stroke="#000" stroke-width="0.9" stroke-linejoin="round"/><path d="M515.3 405.9L530.4 412.9L545.5 419.8L560.6 426.7L575.6 433.6L590.7 440.5L605.8 447.4L620.9 454.3L636 461.2L651.1 468.1L666.2 475.1L681.3 482L696.3 488.9L711.4 495.8L726.5 502.7L741.6 509.6L738.9 525.1L736.1 540.6L733.4 556.1L730.6 571.6L727.9 587.2L725.1 602.7L722.4 618.2L719.6 633.7L716.9 649.2L714.1 664.7L699.1 657.9L684.1 651.1L669.2 644.4L654.2 637.6L639.2 630.8L624.2 624L609.2 617.2L594.3 610.5L579.3 603.7L564.3 596.9L549.3 590.1L534.3 583.3L519.4 576.6L504.4 569.8L489.4 563L492 547.3L494.6 531.6L497.2 515.9L499.8 500.2L502.3 484.5L504.9 468.8L507.5 453.1L510.1 437.4L512.7 421.7Z" fill="#d4d4d4"/><path d="M515.3 405.9L530.4 412.9L545.5 419.8L560.6 426.7L575.6 433.6L590.7 440.5L605.8 447.4L620.9 454.3L636 461.2L651.1 468.1L666.2 475.1L681.3 482L696.3 488.9L711.4 495.8L726.5 502.7L741.6 509.6M512.7 421.7L527.8 428.6L542.9 435.4L557.9 442.3L573 449.2L588.1 456.1L603.2 463L618.2 469.9L633.3 476.8L648.4 483.7L663.5 490.6L678.5 497.5L693.6 504.4L708.7 511.3L723.8 518.2L738.9 525.1M510.1 437.4L525.2 444.2L540.3 451.1L555.3 458L570.4 464.9L585.4 471.8L600.5 478.7L615.6 485.5L630.6 492.4L645.7 499.3L660.8 506.2L675.8 513.1L690.9 520L706 526.9L721 533.7L736.1 540.6M507.5 453.1L522.6 459.9L537.6 466.8L552.7 473.7L567.7 480.5L582.8 487.4L597.9 494.3L612.9 501.2L628 508L643 514.9L658.1 521.8L673.1 528.6L688.2 535.5L703.2 542.4L718.3 549.3L733.4 556.1M504.9 468.8L520 475.6L535 482.5L550.1 489.3L565.1 496.2L580.2 503.1L595.2 509.9L610.2 516.8L625.3 523.6L640.3 530.5L655.4 537.4L670.4 544.2L685.5 551.1L700.5 557.9L715.6 564.8L730.6 571.6M502.3 484.5L517.4 491.3L532.4 498.2L547.5 505L562.5 511.9L577.5 518.7L592.5 525.5L607.6 532.4L622.6 539.2L637.6 546.1L652.7 552.9L667.7 559.8L682.8 566.6L697.8 573.5L712.8 580.3L727.9 587.2M499.8 500.2L514.8 507L529.8 513.8L544.8 520.7L559.9 527.5L574.9 534.3L589.9 541.2L604.9 548L619.9 554.8L635 561.7L650 568.5L665 575.3L680 582.2L695.1 589L710.1 595.8L725.1 602.7M497.2 515.9L512.2 522.7L527.2 529.5L542.2 536.3L557.2 543.2L572.2 550L587.2 556.8L602.3 563.6L617.3 570.4L632.3 577.3L647.3 584.1L662.3 590.9L677.3 597.7L692.3 604.5L707.3 611.4L722.4 618.2M494.6 531.6L509.6 538.4L524.6 545.2L539.6 552L554.6 558.8L569.6 565.6L584.6 572.4L599.6 579.2L614.6 586L629.6 592.8L644.6 599.6L659.6 606.5L674.6 613.3L689.6 620.1L704.6 626.9L719.6 633.7M492 547.3L507 554.1L522 560.9L537 567.7L552 574.5L566.9 581.3L581.9 588.1L596.9 594.8L611.9 601.6L626.9 608.4L641.9 615.2L656.9 622L671.9 628.8L686.9 635.6L701.9 642.4L716.9 649.2M489.4 563L504.4 569.8L519.4 576.6L534.3 583.3L549.3 590.1L564.3 596.9L579.3 603.7L594.3 610.5L609.2 617.2L624.2 624L639.2 630.8L654.2 637.6L669.2 644.4L684.1 651.1L699.1 657.9L714.1 664.7M515.3 405.9L512.7 421.7L510.1 437.4L507.5 453.1L504.9 468.8L502.3 484.5L499.8 500.2L497.2 515.9L494.6 531.6L492 547.3L489.4 563M530.4 412.9L527.8 428.6L525.2 444.2L522.6 459.9L520 475.6L517.4 491.3L514.8 507L512.2 522.7L509.6 538.4L507 554.1L504.4 569.8M545.5 419.8L542.9 435.4L540.3 451.1L537.6 466.8L535 482.5L532.4 498.2L529.8 513.8L527.2 529.5L524.6 545.2L522 560.9L519.4 576.6M560.6 426.7L557.9 442.3L555.3 458L552.7 473.7L550.1 489.3L547.5 505L544.8 520.7L542.2 536.3L539.6 552L537 567.7L534.3 583.3M575.6 433.6L573 449.2L570.4 464.9L567.7 480.5L565.1 496.2L562.5 511.9L559.9 527.5L557.2 543.2L554.6 558.8L552 574.5L549.3 590.1M590.7 440.5L588.1 456.1L585.4 471.8L582.8 487.4L580.2 503.1L577.5 518.7L574.9 534.3L572.2 550L569.6 565.6L566.9 581.3L564.3 596.9M605.8 447.4L603.2 463L600.5 478.7L597.9 494.3L595.2 509.9L592.5 525.5L589.9 541.2L587.2 556.8L584.6 572.4L581.9 588.1L579.3 603.7M620.9 454.3L618.2 469.9L615.6 485.5L612.9 501.2L610.2 516.8L607.6 532.4L604.9 548L602.3 563.6L599.6 579.2L596.9 594.8L594.3 610.5M636 461.2L633.3 476.8L630.6 492.4L628 508L625.3 523.6L622.6 539.2L619.9 554.8L617.3 570.4L614.6 586L611.9 601.6L609.2 617.2M651.1 468.1L648.4 483.7L645.7 499.3L643 514.9L640.3 530.5L637.6 546.1L635 561.7L632.3 577.3L629.6 592.8L626.9 608.4L624.2 624M666.2 475.1L663.5 490.6L660.8 506.2L658.1 521.8L655.4 537.4L652.7 552.9L650 568.5L647.3 584.1L644.6 599.6L641.9 615.2L639.2 630.8M681.3 482L678.5 497.5L675.8 513.1L673.1 528.6L670.4 544.2L667.7 559.8L665 575.3L662.3 590.9L659.6 606.5L656.9 622L654.2 637.6M696.3 488.9L693.6 504.4L690.9 520L688.2 535.5L685.5 551.1L682.8 566.6L680 582.2L677.3 597.7L674.6 613.3L671.9 628.8L669.2 644.4M711.4 495.8L708.7 511.3L706 526.9L703.2 542.4L700.5 557.9L697.8 573.5L695.1 589L692.3 604.5L689.6 620.1L686.9 635.6L684.1 651.1M726.5 502.7L723.8 518.2L721 533.7L718.3 549.3L715.6 564.8L712.8 580.3L710.1 595.8L707.3 611.4L704.6 626.9L701.9 642.4L699.1 657.9M741.6 509.6L738.9 525.1L736.1 540.6L733.4 556.1L730.6 571.6L727.9 587.2L725.1 602.7L722.4 618.2L719.6 633.7L716.9 649.2L714.1 664.7" fill="none" stroke="#000" stroke-width="1.05" stroke-linejoin="round"/><path d="M512.3 405.1L509.7 420.9L512.7 421.7L515.3 405.9Z" fill="#dadada" stroke="#000" stroke-width="0.9" stroke-linejoin="round"/><path d="M509.7 420.9L507.1 436.6L510.1 437.4L512.7 421.7Z" fill="#dadada" stroke="#000" stroke-width="0.9" stroke-linejoin="round"/><path d="M507.1 436.6L504.5 452.3L507.5 453.1L510.1 437.4Z" fill="#dadada" stroke="#000" stroke-width="0.9" stroke-linejoin="round"/><path d="M504.5 452.3L501.9 468L504.9 468.8L507.5 453.1Z" fill="#dadada" stroke="#000" stroke-width="0.9" stroke-linejoin="round"/><path d="M501.9 468L499.3 483.7L502.3 484.5L504.9 468.8Z" fill="#dadada" stroke="#000" stroke-width="0.9" stroke-linejoin="round"/><path d="M499.3 483.7L496.8 499.4L499.8 500.2L502.3 484.5Z" fill="#dadada" stroke="#000" stroke-width="0.9" stroke-linejoin="round"/><path d="M496.8 499.4L494.2 515.1L497.2 515.9L499.8 500.2Z" fill="#dadada" stroke="#000" stroke-width="0.9" stroke-linejoin="round"/><path d="M494.2 515.1L491.6 530.8L494.6 531.6L497.2 515.9Z" fill="#dadada" stroke="#000" stroke-width="0.9" stroke-linejoin="round"/><path d="M491.6 530.8L489 546.5L492 547.3L494.6 531.6Z" fill="#dadada" stroke="#000" stroke-width="0.9" stroke-linejoin="round"/><path d="M486.6 560.6L488.6 549.6L491.6 550.4L489.8 561.6Z" fill="#82aa00" stroke="#111" stroke-width="0.6"/><path d="M741.6 510 L752 501 L752 571 L757.2 567.6 L749.6 588.4 L746.4 600.4 L734.8 586.6 L741.6 583Z" fill="#7cfc00" stroke="#000" stroke-width="1" stroke-linejoin="round"/><path d="M752 503 V571" stroke="#000" stroke-width="1.3"/><path d="M744 523 Q749 518 755 516.4 Q762 517.6 768 522 Q775 528 780 536 Q785 544 787.6 552 Q788.6 557 788 562 Q786.6 570 783 577 Q778 585 770 590 L760 597.6 L756 594.4 L749 589 L768 582 Q771.6 578.4 774 574 Q776.6 568 778 562 Q778.2 557 777 552 Q774.4 545 770 539 Q765.6 533.4 760 530 Q754.6 527.8 749 528Z" fill="#7cfc00" stroke="#000" stroke-width="1" stroke-linejoin="round"/><path d="M760 597.4 L771 588.6 L769.6 587.4 L758.6 596Z" fill="#0e1e00" stroke="#000" stroke-width="0.5"/><rect x="768.4" y="573" width="25.6" height="15" fill="#bdbdbd" fill-opacity="0.85"/><text x="781.1999999999999" y="584.8" font-size="12" text-anchor="middle" fill="#000">55.0</text><path d="M463.6 451.4L472.2 443.8L480.8 436.2L489.5 428.7L498.1 421.1L506.7 413.5L515.3 405.9L523.9 398.4L532.5 390.8L541.1 383.2L549.8 375.6L558.4 368.1L567 360.5L582.1 367.4L597.2 374.4L612.3 381.3L627.4 388.3L642.5 395.2L657.6 402.1L672.7 409.1L687.9 416L703 423L718.1 429.9L733.2 436.8L748.3 443.8L763.4 450.7L778.5 457.7L793.6 464.6L784.9 472.1L776.3 479.6L767.6 487.1L758.9 494.6L750.3 502.1L741.6 509.6L732.9 517.1L724.3 524.6L715.6 532.1L706.9 539.6L698.3 547.1L689.6 554.6L674.5 547.7L659.5 540.8L644.4 534L629.3 527.1L614.3 520.2L599.2 513.3L584.1 506.4L569.1 499.6L554 492.7L538.9 485.8L523.9 478.9L508.8 472L493.7 465.2L478.7 458.3Z" fill="#d4d4d4"/><path d="M463.6 451.4L472.2 443.8L480.8 436.2L489.5 428.7L498.1 421.1L506.7 413.5L515.3 405.9L523.9 398.4L532.5 390.8L541.1 383.2L549.8 375.6L558.4 368.1L567 360.5M478.7 458.3L487.3 450.7L495.9 443.1L504.5 435.6L513.1 428L521.8 420.4L530.4 412.9L539 405.3L547.6 397.7L556.2 390.2L564.9 382.6L573.5 375L582.1 367.4M493.7 465.2L502.4 457.6L511 450L519.6 442.5L528.2 434.9L536.9 427.3L545.5 419.8L554.1 412.2L562.7 404.6L571.3 397.1L580 389.5L588.6 381.9L597.2 374.4M508.8 472L517.4 464.5L526.1 456.9L534.7 449.4L543.3 441.8L551.9 434.2L560.6 426.7L569.2 419.1L577.8 411.6L586.4 404L595.1 396.4L603.7 388.9L612.3 381.3M523.9 478.9L532.5 471.4L541.1 463.8L549.8 456.3L558.4 448.7L567 441.1L575.6 433.6L584.3 426L592.9 418.5L601.5 410.9L610.2 403.4L618.8 395.8L627.4 388.3M538.9 485.8L547.6 478.2L556.2 470.7L564.8 463.1L573.5 455.6L582.1 448.1L590.7 440.5L599.4 433L608 425.4L616.6 417.9L625.3 410.3L633.9 402.8L642.5 395.2M554 492.7L562.6 485.1L571.3 477.6L579.9 470L588.5 462.5L597.2 455L605.8 447.4L614.5 439.9L623.1 432.3L631.7 424.8L640.4 417.2L649 409.7L657.6 402.1M569.1 499.6L577.7 492L586.3 484.5L595 476.9L603.6 469.4L612.3 461.9L620.9 454.3L629.5 446.8L638.2 439.2L646.8 431.7L655.5 424.2L664.1 416.6L672.7 409.1M584.1 506.4L592.8 498.9L601.4 491.4L610.1 483.8L618.7 476.3L627.4 468.8L636 461.2L644.6 453.7L653.3 446.2L661.9 438.6L670.6 431.1L679.2 423.6L687.9 416M599.2 513.3L607.8 505.8L616.5 498.3L625.1 490.7L633.8 483.2L642.4 475.7L651.1 468.1L659.7 460.6L668.4 453.1L677 445.6L685.7 438L694.3 430.5L703 423M614.3 520.2L622.9 512.7L631.6 505.2L640.2 497.6L648.9 490.1L657.5 482.6L666.2 475.1L674.8 467.5L683.5 460L692.1 452.5L700.8 445L709.4 437.4L718.1 429.9M629.3 527.1L638 519.6L646.6 512L655.3 504.5L663.9 497L672.6 489.5L681.3 482L689.9 474.4L698.6 466.9L707.2 459.4L715.9 451.9L724.5 444.4L733.2 436.8M644.4 534L653.1 526.4L661.7 518.9L670.4 511.4L679 503.9L687.7 496.4L696.3 488.9L705 481.4L713.7 473.8L722.3 466.3L731 458.8L739.6 451.3L748.3 443.8M659.5 540.8L668.1 533.3L676.8 525.8L685.4 518.3L694.1 510.8L702.8 503.3L711.4 495.8L720.1 488.3L728.7 480.8L737.4 473.2L746.1 465.7L754.7 458.2L763.4 450.7M674.5 547.7L683.2 540.2L691.9 532.7L700.5 525.2L709.2 517.7L717.9 510.2L726.5 502.7L735.2 495.2L743.8 487.7L752.5 480.2L761.2 472.7L769.8 465.2L778.5 457.7M689.6 554.6L698.3 547.1L706.9 539.6L715.6 532.1L724.3 524.6L732.9 517.1L741.6 509.6L750.3 502.1L758.9 494.6L767.6 487.1L776.3 479.6L784.9 472.1L793.6 464.6M463.6 451.4L478.7 458.3L493.7 465.2L508.8 472L523.9 478.9L538.9 485.8L554 492.7L569.1 499.6L584.1 506.4L599.2 513.3L614.3 520.2L629.3 527.1L644.4 534L659.5 540.8L674.5 547.7L689.6 554.6M472.2 443.8L487.3 450.7L502.4 457.6L517.4 464.5L532.5 471.4L547.6 478.2L562.6 485.1L577.7 492L592.8 498.9L607.8 505.8L622.9 512.7L638 519.6L653.1 526.4L668.1 533.3L683.2 540.2L698.3 547.1M480.8 436.2L495.9 443.1L511 450L526.1 456.9L541.1 463.8L556.2 470.7L571.3 477.6L586.3 484.5L601.4 491.4L616.5 498.3L631.6 505.2L646.6 512L661.7 518.9L676.8 525.8L691.9 532.7L706.9 539.6M489.5 428.7L504.5 435.6L519.6 442.5L534.7 449.4L549.8 456.3L564.8 463.1L579.9 470L595 476.9L610.1 483.8L625.1 490.7L640.2 497.6L655.3 504.5L670.4 511.4L685.4 518.3L700.5 525.2L715.6 532.1M498.1 421.1L513.1 428L528.2 434.9L543.3 441.8L558.4 448.7L573.5 455.6L588.5 462.5L603.6 469.4L618.7 476.3L633.8 483.2L648.9 490.1L663.9 497L679 503.9L694.1 510.8L709.2 517.7L724.3 524.6M506.7 413.5L521.8 420.4L536.9 427.3L551.9 434.2L567 441.1L582.1 448.1L597.2 455L612.3 461.9L627.4 468.8L642.4 475.7L657.5 482.6L672.6 489.5L687.7 496.4L702.8 503.3L717.9 510.2L732.9 517.1M515.3 405.9L530.4 412.9L545.5 419.8L560.6 426.7L575.6 433.6L590.7 440.5L605.8 447.4L620.9 454.3L636 461.2L651.1 468.1L666.2 475.1L681.3 482L696.3 488.9L711.4 495.8L726.5 502.7L741.6 509.6M523.9 398.4L539 405.3L554.1 412.2L569.2 419.1L584.3 426L599.4 433L614.5 439.9L629.5 446.8L644.6 453.7L659.7 460.6L674.8 467.5L689.9 474.4L705 481.4L720.1 488.3L735.2 495.2L750.3 502.1M532.5 390.8L547.6 397.7L562.7 404.6L577.8 411.6L592.9 418.5L608 425.4L623.1 432.3L638.2 439.2L653.3 446.2L668.4 453.1L683.5 460L698.6 466.9L713.7 473.8L728.7 480.8L743.8 487.7L758.9 494.6M541.1 383.2L556.2 390.2L571.3 397.1L586.4 404L601.5 410.9L616.6 417.9L631.7 424.8L646.8 431.7L661.9 438.6L677 445.6L692.1 452.5L707.2 459.4L722.3 466.3L737.4 473.2L752.5 480.2L767.6 487.1M549.8 375.6L564.9 382.6L580 389.5L595.1 396.4L610.2 403.4L625.3 410.3L640.4 417.2L655.5 424.2L670.6 431.1L685.7 438L700.8 445L715.9 451.9L731 458.8L746.1 465.7L761.2 472.7L776.3 479.6M558.4 368.1L573.5 375L588.6 381.9L603.7 388.9L618.8 395.8L633.9 402.8L649 409.7L664.1 416.6L679.2 423.6L694.3 430.5L709.4 437.4L724.5 444.4L739.6 451.3L754.7 458.2L769.8 465.2L784.9 472.1M567 360.5L582.1 367.4L597.2 374.4L612.3 381.3L627.4 388.3L642.5 395.2L657.6 402.1L672.7 409.1L687.9 416L703 423L718.1 429.9L733.2 436.8L748.3 443.8L763.4 450.7L778.5 457.7L793.6 464.6" fill="none" stroke="#000" stroke-width="1.05" stroke-linejoin="round"/><path d="M460.8 446.2L469.7 438.3L473.1 442.3L464.2 450.2Z" fill="#dadada" stroke="#000" stroke-width="0.9" stroke-linejoin="round"/><path d="M469.7 438.3L478.6 430.5L482 434.5L473.1 442.3Z" fill="#dadada" stroke="#000" stroke-width="0.9" stroke-linejoin="round"/><path d="M478.6 430.5L487.6 422.6L490.9 426.6L482 434.5Z" fill="#8c8ce6" stroke="#000" stroke-width="0.9" stroke-linejoin="round"/><path d="M487.6 422.6L496.5 414.8L499.9 418.8L490.9 426.6Z" fill="#00beff" stroke="#000" stroke-width="0.9" stroke-linejoin="round"/><path d="M496.5 414.8L505.4 406.9L508.8 410.9L499.9 418.8Z" fill="#ffc800" stroke="#000" stroke-width="0.9" stroke-linejoin="round"/><path d="M505.4 406.9L514.3 399.1L517.7 403.1L508.8 410.9Z" fill="#b40000" stroke="#000" stroke-width="0.9" stroke-linejoin="round"/><path d="M514.3 399.1L523.2 391.2L526.6 395.2L517.7 403.1Z" fill="#b40000" stroke="#000" stroke-width="0.9" stroke-linejoin="round"/><path d="M523.2 391.2L532.1 383.4L535.5 387.4L526.6 395.2Z" fill="#ffc800" stroke="#000" stroke-width="0.9" stroke-linejoin="round"/><path d="M532.1 383.4L541.1 375.6L544.5 379.6L535.5 387.4Z" fill="#00beff" stroke="#000" stroke-width="0.9" stroke-linejoin="round"/><path d="M541.1 375.6L550 367.7L553.4 371.7L544.5 379.6Z" fill="#8c8ce6" stroke="#000" stroke-width="0.9" stroke-linejoin="round"/><path d="M550 367.7L558.9 359.9L562.3 363.9L553.4 371.7Z" fill="#dadada" stroke="#000" stroke-width="0.9" stroke-linejoin="round"/><path d="M558.9 359.9L567.8 352L571.2 356L562.3 363.9Z" fill="#dadada" stroke="#000" stroke-width="0.9" stroke-linejoin="round"/><rect x="746.2" y="474.4" width="29.8" height="14.2" fill="#bdbdbd" fill-opacity="0.85"/><text x="761.1" y="485.4" font-size="12" text-anchor="middle" fill="#000">-40.0</text><path d="M362.7 93 L366.6 88.6 Q378 76.5 384.5 74.2 Q390 71.4 396.5 71.2 Q404 71.4 410 74.2 Q416.5 77 422 82.5 Q428 88 432.5 94.5 Q436.5 100.5 439.2 106.5 Q441.4 111.5 441.8 116.4 L431 125.7 Q430.6 120.5 428.7 115.5 Q426.6 110 423.5 105 Q420 99.5 416 94.5 Q411.6 90.2 407 87 Q402 83.6 396.5 82.5 Q391 81.2 386 81.7 Q381 83 377 85.5 Q373.8 88.6 371.7 93 Q369.4 97.6 368 102.4 Q364.2 99 362.7 93Z" fill="#7cfc00" stroke="#000" stroke-width="1"/><path d="M366.4 90 L375 81.5 L378.6 82.2 L369.6 91.4Z" fill="#1c3a00" stroke="#000" stroke-width="0.6"/><rect x="429" y="85" width="30" height="14.6" fill="#bdbdbd" fill-opacity="0.85"/><text x="444.0" y="96.39999999999999" font-size="12" text-anchor="middle" fill="#000">-20.0</text><path d="M363.6 791 L373 782 Q374 788 376 793 Q379.5 800 384 806 Q389.5 812 396 817 Q402 821 408 824 Q414 826 420 826 Q424 824.6 428 820 L433 816.6 L432 820 L420.6 833.6 Q416.5 835.6 412 836 Q406 836.6 400 835 Q392.5 832.4 386 828 Q379.5 823 374 817 Q369.5 810.6 366 803 Q364.2 797 363.6 791Z" fill="#ff0000" stroke="#000" stroke-width="1"/><path d="M420.6 833.6 L431.6 820.6 L433.2 816.4 L418.8 832.2Z" fill="#7a0000" stroke="#000" stroke-width="0.5"/><rect x="429.4" y="810.4" width="29.6" height="14.2" fill="#bdbdbd" fill-opacity="0.85"/><text x="444.2" y="821.4" font-size="12" text-anchor="middle" fill="#000">-20.0</text><path d="M398.2 872 V932.6 Q402 935.2 405.8 932.6 V872Z" fill="#ff0000" stroke="#7a0000" stroke-width="0.6"/><path d="M402.4 844 L391.8 869.4 Q392.4 873.6 402.4 875 Q412.6 873.6 413 869.4Z" fill="#ff0000" stroke="#3a0000" stroke-width="0.7"/><rect x="402" y="937" width="26" height="14.6" fill="#bdbdbd" fill-opacity="0.85"/><text x="415.0" y="948.4" font-size="12" text-anchor="middle" fill="#000">40.0</text></svg><div class="status"><div class="row"><span class="k">Analysis</span><svg width="18" height="18" viewBox="0 0 18 18"><path d="M1.6 10.2 L4.4 8.2 L7.0 11.6 L14.6 1.6 L16.6 3.2 L7.2 16.2 Z" fill="#7dc383"/></svg><span class="v">100.0%</span></div><div class="row"><span class="k">Plates</span><svg width="18" height="18" viewBox="0 0 18 18"><path d="M3.2 1.6 L9 6.6 L14.8 1.6 L17 4 L11.6 9 L17 14 L14.8 16.6 L9 11.6 L3.2 16.6 L1 14 L6.4 9 L1 4 Z" fill="#ff8a8a"/></svg><span class="v">9.7 &gt; 5.0%</span></div><div class="row"><span class="k">Welds</span><svg width="18" height="18" viewBox="0 0 18 18"><path d="M3.2 1.6 L9 6.6 L14.8 1.6 L17 4 L11.6 9 L17 14 L14.8 16.6 L9 11.6 L3.2 16.6 L1 14 L6.4 9 L1 4 Z" fill="#ff8a8a"/></svg><span class="v">107.9 &gt; 100%</span></div><div class="row"><span class="k">Buckling</span><span class="v">Not calculated</span></div></div><svg class="abs" style="left:760px;top:12px" width="320" height="40" viewBox="760 12 320 40" fill="none" stroke="#111" stroke-width="1.3"><g stroke="#111" stroke-width="1.2"><path d="M770.5 29.5V25.5H774.5M770.5 25.5L774.3 29.3"/><path d="M779.5 25.5H783.5V29.5M783.5 25.5L779.7 29.3"/><path d="M770.5 34.5V38.5H774.5M770.5 38.5L774.3 34.7"/><path d="M779.5 38.5H783.5V34.5M783.5 38.5L779.7 34.7"/></g><g stroke="#333" stroke-width="1.1"><circle cx="803.6" cy="30.4" r="5.9"/><path d="M807.9 34.7L812.6 39.5"/></g><path d="M821.3 30.9L825.1 34.7L828.9 30.9" stroke="#444" stroke-width="1.1"/><path d="M833.5 16V48" stroke="#cfcfcf" stroke-width="1"/><g stroke="#222" stroke-width="1.4"><path d="M849.7 24.2V36.3H861.8"/><path d="M846.3 27.6H858.4V39.7"/></g><path d="M869.9 30.9L873.9 34.7L877.9 30.9" stroke="#444" stroke-width="1.1"/><path d="M890.8000000000001 29.2H900.4V38.9H890.8000000000001Z M890.8000000000001 29.2L895.8000000000001 24.9H905.4V33.9L900.4 38.9 M900.4 29.2L905.4 24.9" stroke="#000" stroke-width="1.4" fill="#fff"/><path d="M895.8000000000001 24.9V26.7 M895.8000000000001 30.9V33.9H898.8000000000001 M902.9 33.9H905.4 M895.8000000000001 33.9L890.8000000000001 38.9" stroke="#000" stroke-width="1.1"/><path d="M922.8000000000001 29.2L927.8000000000001 24.9H937.4V33.9L932.4 38.9H922.8000000000001Z" fill="#cfcfcf" stroke="#000" stroke-width="1.4"/><path d="M922.8000000000001 29.2H932.4V38.9 M932.4 29.2L937.4 24.9" stroke="#000" stroke-width="1.4"/><path d="M927.8000000000001 24.9V26.7 M927.8000000000001 30.9V33.9H930.8000000000001 M934.9 33.9H937.4 M927.8000000000001 33.9L922.8000000000001 38.9" stroke="#000" stroke-width="1.1"/><path d="M954.1 29.2H964.0V39.5H954.1Z" fill="#000" stroke="none"/><path d="M954.4000000000001 28.0L959.7 24.2H969.6999999999999L964.9 28.0Z" fill="#000" stroke="none"/><path d="M965.5 29.0L969.9 24.8V34.3L965.5 39.5Z" fill="#000" stroke="none"/><path d="M978.4 18V46" stroke="#cfcfcf" stroke-width="1"/><g stroke="#111" stroke-width="1.3" stroke-linejoin="round"><path d="M987.4 28.3 L992.5 26.6 Q997.5 25.2 1002.7 27.4 L1002.7 31.8 L992.3 37.2 L987.4 34.4 Z"/><path d="M987.4 28.3 L992.3 29.6 L1002.7 27.4 M992.3 29.6 V37.2"/></g><g stroke="#111" stroke-width="1.2"><path d="M1025.3 24V39.8 M1028.7 24V39.8"/><path d="M1023.3 30.4 Q1019.4 31.3 1019.4 33.2 Q1019.4 35.4 1023.3 36.2" stroke-width="1"/><path d="M1030.7 30.2 Q1034.7 31 1034.7 33.2 Q1034.7 35.8 1029 36.4 L1024.2 36.4" stroke-width="1"/><path d="M1024.6 34.6 L1021.4 36.3 L1024.6 38 Z" fill="#111" stroke="none"/></g><path d="M1051.4 32 L1059 25.4 L1066.6 32 H1064.6 V38.4 H1060.6 V33.6 H1057.4 V38.4 H1053.4 V32 Z" stroke="#8a8a8a" stroke-width="1.1" stroke-linejoin="miter"/></svg><div class="t" style="left:835px;top:63px;font-size:12.2px;line-height:14px;font-weight:bold;letter-spacing:-0.3px;"><span style="color:#f26b21">Production cost</span><span style="color:#111;font-weight:normal;display:inline-block;width:16px;text-align:center;letter-spacing:0">-</span><span style="color:#111">6 €</span></div><svg class="abs" style="left:985px;top:70px" width="95" height="80" viewBox="985 70 95 80"><defs><linearGradient id="ringg" x1="0" y1="0" x2="0" y2="1"><stop offset="0" stop-color="#b9b9b9"/><stop offset="0.6" stop-color="#bdbdbd"/><stop offset="1" stop-color="#d2d2d2"/></linearGradient><radialGradient id="ring2" cx="0.5" cy="0.5" r="0.5"><stop offset="0" stop-color="#fff"/><stop offset="0.78" stop-color="#fff"/><stop offset="1" stop-color="#e9e9e9"/></radialGradient></defs><ellipse cx="1030" cy="122.6" rx="38" ry="20.6" fill="url(#ringg)"/><ellipse cx="1030" cy="121" rx="29.4" ry="15.2" fill="url(#ring2)"/><path d="M1003.2 89.6 L1023.6 78 L1054 84.8 L1051.6 113.6 L1036.8 132.4 L1006 118.8 Z" fill="#606060" stroke="#161616" stroke-width="1.5" stroke-linejoin="round"/><path d="M1038 98.4 L1054 84.8 L1051.6 113.6 L1036.8 132.4 Z" fill="#5a5a5a"/><path d="M1024 79 L1025 105.6 L1006.6 118.4 M1025 105.6 L1051 113.4" fill="none" stroke="#747474" stroke-width="0.7"/><path d="M1003.2 89.6 L1038 98.4 L1054 84.8 M1038 98.4 L1036.8 132.4" fill="none" stroke="#161616" stroke-width="1.4" stroke-linejoin="round" stroke-linecap="round"/><text x="1016.4" y="114.4" font-size="7.4" font-weight="bold" fill="#fff" transform="rotate(14 1020 112)">+Y</text><text x="1027.6" y="88.6" font-size="5.4" font-weight="bold" fill="#f4f4f4" transform="rotate(-24 1030 87)">z</text><text x="1043.6" y="110" font-size="5.4" font-weight="bold" fill="#f4f4f4" transform="rotate(-75 1046 108)">x</text><path d="M1001.6 142.4 L1008 136.6 L1007.4 132.4 M1008 136.6 L1014.6 135.4" fill="none" stroke="#333" stroke-width="2"/><path d="M996.4 107.6 L1004 105.2 M1000.4 103.8 L1002.4 109" fill="none" stroke="#3a3a3a" stroke-width="1.3"/><path d="M1059 126 L1069.6 129.6" fill="none" stroke="#444" stroke-width="0.9" stroke-dasharray="2.6 1"/></svg><svg class="abs" style="left:900px;top:150px" width="185" height="400" viewBox="900 150 185 400"><rect x="984.5" y="205.50" width="26.0" height="15.50" fill="#b40000"/><rect x="984.5" y="220.70" width="26.0" height="15.50" fill="#dc0000"/><rect x="984.5" y="235.90" width="26.0" height="15.50" fill="#ff0a00"/><rect x="984.5" y="251.10" width="26.0" height="15.50" fill="#ff4600"/><rect x="984.5" y="266.30" width="26.0" height="15.50" fill="#ff7800"/><rect x="984.5" y="281.50" width="26.0" height="15.50" fill="#ffa500"/><rect x="984.5" y="296.70" width="26.0" height="15.50" fill="#ffc800"/><rect x="984.5" y="311.90" width="26.0" height="15.50" fill="#ffeb00"/><rect x="984.5" y="327.10" width="26.0" height="15.50" fill="#dce100"/><rect x="984.5" y="342.30" width="26.0" height="15.50" fill="#82aa00"/><rect x="984.5" y="357.50" width="26.0" height="15.50" fill="#287800"/><rect x="984.5" y="372.70" width="26.0" height="15.50" fill="#0a8232"/><rect x="984.5" y="387.90" width="26.0" height="15.50" fill="#00b482"/><rect x="984.5" y="403.10" width="26.0" height="15.50" fill="#00e6dc"/><rect x="984.5" y="418.30" width="26.0" height="15.50" fill="#00beff"/><rect x="984.5" y="433.50" width="26.0" height="15.50" fill="#0064ff"/><rect x="984.5" y="448.70" width="26.0" height="15.50" fill="#0000ff"/><rect x="984.5" y="463.90" width="26.0" height="15.50" fill="#4040e6"/><rect x="984.5" y="479.10" width="26.0" height="15.50" fill="#8c8ce6"/><rect x="984.5" y="494.30" width="26.0" height="15.50" fill="#d7d7d7"/><rect x="984.5" y="205.5" width="26.0" height="304.0" fill="none" stroke="#222" stroke-width="1"/><path d="M976.5 205.5H984.5" stroke="#222" stroke-width="1"/><path d="M976.5 233.2H984.5" stroke="#222" stroke-width="1"/><path d="M976.5 264H984.5" stroke="#222" stroke-width="1"/><path d="M976.5 294.6H984.5" stroke="#222" stroke-width="1"/><path d="M976.5 325.3H984.5" stroke="#222" stroke-width="1"/><path d="M976.5 356H984.5" stroke="#222" stroke-width="1"/><path d="M976.5 386.7H984.5" stroke="#222" stroke-width="1"/><path d="M976.5 417.4H984.5" stroke="#222" stroke-width="1"/><path d="M976.5 448.1H984.5" stroke="#222" stroke-width="1"/><path d="M976.5 478.8H984.5" stroke="#222" stroke-width="1"/><path d="M976.5 509.5H984.5" stroke="#222" stroke-width="1"/><text x="969.3" y="202.8" font-size="12" text-anchor="end" fill="#111">24.70</text><text x="969.3" y="229.8" font-size="12" text-anchor="end" fill="#111">22.5</text><text x="969.3" y="260.8" font-size="12" text-anchor="end" fill="#111">20.0</text><text x="969.3" y="291.5" font-size="12" text-anchor="end" fill="#111">17.5</text><text x="969.3" y="322.0" font-size="12" text-anchor="end" fill="#111">15.0</text><text x="969.3" y="352.8" font-size="12" text-anchor="end" fill="#111">12.5</text><text x="969.3" y="383.6" font-size="12" text-anchor="end" fill="#111">10.0</text><text x="969.3" y="414.4" font-size="12" text-anchor="end" fill="#111">7.5</text><text x="969.3" y="445.0" font-size="12" text-anchor="end" fill="#111">5.0</text><text x="969.3" y="475.8" font-size="12" text-anchor="end" fill="#111">2.5</text><text x="969.3" y="520.4" font-size="12" text-anchor="end" fill="#111">0.00</text><text x="999.4" y="171.6" font-size="14" text-anchor="middle" fill="#111">[%]</text></svg><div class="vsplit"></div><div class="panel"></div><div class="tabbar"><div class="tab" style="left:9px;width:62px;letter-spacing:-0.2px">Analysis</div><div class="tab" style="left:73.5px;width:60px;letter-spacing:-0.2px">Plates</div><div class="tab sel" style="left:131px;width:58px">Welds</div></div><div class="h1" style="left:1107px;top:57px">Check of welds for extreme load effect</div><table class="grid" style="left:1102px;top:76px;width:687px"><colgroup><col style="width:29px"><col style="width:30px"><col style="width:47px"><col style="width:44px"><col style="width:43px"><col style="width:50px"><col style="width:50px"><col style="width:43px"><col style="width:50px"><col style="width:50px"><col style="width:50px"><col style="width:50px"><col style="width:50px"><col style="width:50px"><col style="width:50px"></colgroup><thead><tr style="height:34px"><th></th><th></th><th>Status</th><th>Item</th><th>Edge</th><th>Th<br>[mm]</th><th>L<br>[mm]</th><th>Loads</th><th>σw,Ed<br>[MPa]</th><th>ε,Pl<br>[%]</th><th>σ⊥<br>[MPa]</th><th>τ⊥<br>[MPa]</th><th>τ||<br>[MPa]</th><th>Ut<br>[%]</th><th>Utc<br>[%]</th></tr></thead><tbody><tr style="height:29px"><td class="c"></td><td class="c"><span class="plus"></span></td><td class="c"><svg width="17" height="17" viewBox="0 0 17 17" style="vertical-align:middle;position:relative;top:-1px"><circle cx="8.5" cy="8.5" r="8" fill="#f26b21"/><circle cx="8.5" cy="8.5" r="7.2" fill="none" stroke="#f58a4f" stroke-width="0.8"/><path d="M5.6 5.6L11.4 11.4M11.4 5.6L5.6 11.4" stroke="#fff" stroke-width="2.3" stroke-linecap="butt"/></svg></td><td class="w">C-bfl 1</td><td class="w">B-bfl 1</td><td><svg width="10" height="9" viewBox="0 0 10 9" style="vertical-align:-0.5px"><path d="M0.3 8.6H9.2V0.4Z" fill="#333"/></svg><span style="display:inline-block;width:22px;text-align:center;letter-spacing:-0.5px">4.0</span><svg width="10" height="9" viewBox="0 0 10 9" style="vertical-align:-0.5px"><path d="M0.6 0.4V8.6H9.6Z" fill="#333"/></svg></td><td>199</td><td>LE1</td><td>450.3</td><td>13.5</td><td>-66.6</td><td>-249.3</td><td>-63.0</td><td>103.4</td><td>100.0</td></tr><tr style="height:29px"><td class="c"></td><td class="c"><span class="plus"></span></td><td class="c"><svg width="17" height="17" viewBox="0 0 17 17" style="vertical-align:middle;position:relative;top:-1px"><circle cx="8.5" cy="8.5" r="8" fill="#f26b21"/><circle cx="8.5" cy="8.5" r="7.2" fill="none" stroke="#f58a4f" stroke-width="0.8"/><path d="M5.6 5.6L11.4 11.4M11.4 5.6L5.6 11.4" stroke="#fff" stroke-width="2.3" stroke-linecap="butt"/></svg></td><td class="w"></td><td class="w"></td><td><svg width="10" height="9" viewBox="0 0 10 9" style="vertical-align:-0.5px"><path d="M0.3 8.6H9.2V0.4Z" fill="#333"/></svg><span style="display:inline-block;width:22px;text-align:center;letter-spacing:-0.5px">4.0</span><svg width="10" height="9" viewBox="0 0 10 9" style="vertical-align:-0.5px"><path d="M0.6 0.4V8.6H9.6Z" fill="#333"/></svg></td><td>199</td><td>LE1</td><td>469.7</td><td>24.6</td><td>-308.0</td><td>203.4</td><td>23.7</td><td>107.8</td><td>100.0</td></tr><tr style="height:29px"><td class="c"></td><td class="c"><span class="plus"></span></td><td class="c"><svg width="17" height="17" viewBox="0 0 17 17" style="vertical-align:middle;position:relative;top:-1px"><circle cx="8.5" cy="8.5" r="8" fill="#f26b21"/><circle cx="8.5" cy="8.5" r="7.2" fill="none" stroke="#f58a4f" stroke-width="0.8"/><path d="M5.6 5.6L11.4 11.4M11.4 5.6L5.6 11.4" stroke="#fff" stroke-width="2.3" stroke-linecap="butt"/></svg></td><td class="w">C-bfl 1</td><td class="w">B-tfl 1</td><td><svg width="10" height="9" viewBox="0 0 10 9" style="vertical-align:-0.5px"><path d="M0.3 8.6H9.2V0.4Z" fill="#333"/></svg><span style="display:inline-block;width:22px;text-align:center;letter-spacing:-0.5px">4.0</span><svg width="10" height="9" viewBox="0 0 10 9" style="vertical-align:-0.5px"><path d="M0.6 0.4V8.6H9.6Z" fill="#333"/></svg></td><td>199</td><td>LE1</td><td>469.9</td><td>24.7</td><td>305.4</td><td>204.8</td><td>23.8</td><td>107.9</td><td>100.0</td></tr><tr class="sel" style="height:29px"><td class="c"><svg width="9" height="13" viewBox="0 0 9 13" style="vertical-align:middle"><path d="M2 1.5L7 6.5L2 11.5" fill="none" stroke="#444" stroke-width="1.3"/></svg></td><td class="c"><span class="plus"></span></td><td class="c"><svg width="17" height="17" viewBox="0 0 17 17" style="vertical-align:middle;position:relative;top:-1px"><circle cx="8.5" cy="8.5" r="8" fill="#f26b21"/><circle cx="8.5" cy="8.5" r="7.2" fill="none" stroke="#f58a4f" stroke-width="0.8"/><path d="M5.6 5.6L11.4 11.4M11.4 5.6L5.6 11.4" stroke="#fff" stroke-width="2.3" stroke-linecap="butt"/></svg></td><td class="w"></td><td class="w"></td><td><svg width="10" height="9" viewBox="0 0 10 9" style="vertical-align:-0.5px"><path d="M0.3 8.6H9.2V0.4Z" fill="#333"/></svg><span style="display:inline-block;width:22px;text-align:center;letter-spacing:-0.5px">4.0</span><svg width="10" height="9" viewBox="0 0 10 9" style="vertical-align:-0.5px"><path d="M0.6 0.4V8.6H9.6Z" fill="#333"/></svg></td><td>199</td><td>LE1</td><td>450.1</td><td>13.4</td><td>71.4</td><td>-248.9</td><td>-62.4</td><td>103.3</td><td>100.0</td></tr><tr style="height:29px"><td class="c"></td><td class="c"><span class="plus"></span></td><td class="c"><svg width="17" height="17" viewBox="0 0 17 17" style="vertical-align:middle;position:relative;top:-1px"><circle cx="8.5" cy="8.5" r="8" fill="#f26b21"/><circle cx="8.5" cy="8.5" r="7.2" fill="none" stroke="#f58a4f" stroke-width="0.8"/><path d="M5.6 5.6L11.4 11.4M11.4 5.6L5.6 11.4" stroke="#fff" stroke-width="2.3" stroke-linecap="butt"/></svg></td><td class="w">C-bfl 1</td><td class="w">B-w 1</td><td><svg width="10" height="9" viewBox="0 0 10 9" style="vertical-align:-0.5px"><path d="M0.3 8.6H9.2V0.4Z" fill="#333"/></svg><span style="display:inline-block;width:22px;text-align:center;letter-spacing:-0.5px">3.0</span><svg width="10" height="9" viewBox="0 0 10 9" style="vertical-align:-0.5px"><path d="M0.6 0.4V8.6H9.6Z" fill="#333"/></svg></td><td>179</td><td>LE1</td><td>448.5</td><td>12.4</td><td>-205.4</td><td>-205.5</td><td>-103.7</td><td>103.0</td><td>100.0</td></tr><tr style="height:29px"><td class="c"></td><td class="c"><span class="plus"></span></td><td class="c"><svg width="17" height="17" viewBox="0 0 17 17" style="vertical-align:middle;position:relative;top:-1px"><circle cx="8.5" cy="8.5" r="8" fill="#f26b21"/><circle cx="8.5" cy="8.5" r="7.2" fill="none" stroke="#f58a4f" stroke-width="0.8"/><path d="M5.6 5.6L11.4 11.4M11.4 5.6L5.6 11.4" stroke="#fff" stroke-width="2.3" stroke-linecap="butt"/></svg></td><td class="w"></td><td class="w"></td><td><svg width="10" height="9" viewBox="0 0 10 9" style="vertical-align:-0.5px"><path d="M0.3 8.6H9.2V0.4Z" fill="#333"/></svg><span style="display:inline-block;width:22px;text-align:center;letter-spacing:-0.5px">3.0</span><svg width="10" height="9" viewBox="0 0 10 9" style="vertical-align:-0.5px"><path d="M0.6 0.4V8.6H9.6Z" fill="#333"/></svg></td><td>179</td><td>LE1</td><td>448.5</td><td>12.4</td><td>-205.5</td><td>205.5</td><td>103.7</td><td>103.0</td><td>100.0</td></tr></tbody></table><div class="h1" style="left:1107px;top:394px">Design data</div><table class="grid" style="left:1102px;top:418px;width:252px"><colgroup><col style="width:29px"><col style="width:58px"><col style="width:40px"><col style="width:40px"><col style="width:43px"><col style="width:41px"></colgroup><thead><tr style="height:45px"><th style="line-height:16px"></th><th style="line-height:16px">Material</th><th style="line-height:16px">f<sub>u</sub><br><span class="unit">[MPa]</span></th><th style="line-height:16px">β<sub>w</sub><br><span class="unit">[-]</span></th><th style="line-height:16px">σ<sub>w,Rd</sub><br><span class="unit">[MPa]</span></th><th style="line-height:16px">0.9 σ<br><span class="unit">[MPa]</span></th></tr></thead><tbody><tr class="sel" style="height:30px"><td class="c" style="padding-top:0"><svg width="9" height="13" viewBox="0 0 9 13" style="vertical-align:middle"><path d="M2 1.5L7 6.5L2 11.5" fill="none" stroke="#444" stroke-width="1.3"/></svg></td><td style="padding-top:1px">S 355</td><td style="padding-top:1px">490.0</td><td style="padding-top:1px">0.90</td><td style="padding-top:1px">435.6</td><td style="padding-top:1px">352.8</td></tr></tbody></table><div class="hsplit"></div><div class="fitbtn"><svg width="22" height="22" viewBox="0 0 22 22" fill="none" stroke="#555" stroke-width="1.1"><path d="M5 8.2V5H8.2M5 5L8.6 8.6"/><path d="M13.8 5H17V8.2M17 5L13.4 8.6"/><path d="M5 13.8V17H8.2M5 17L8.6 13.4"/><path d="M13.8 17H17V13.8M17 17L13.4 13.4"/></svg></div><svg class="abs" style="left:1300px;top:520px" width="150" height="450" viewBox="1300 520 150 450"><rect x="1312.4" y="533.5" width="124.3" height="420.1" fill="#dedede"/><g><path d="M1367.4 658 Q1370.5 656.2 1374.4 656.4 Q1378.4 656.2 1381.6 658 L1382 664 Q1383.6 670 1384.4 676 L1392 674.6 Q1400 673.2 1404 672.8 Q1417 672.6 1436.7 675.2 L1436.7 680.8 Q1430 683.4 1425 686.4 Q1416 689.6 1405 691.2 Q1395 693.4 1388 694.4 L1383.6 695.2 Q1382.4 697.6 1380.8 699.2 Q1377.6 702.4 1374.4 704.4 Q1371.2 702.4 1368 699.2 Q1366.4 697.6 1365.2 695.2 L1360.8 694.4 Q1354 693.4 1344 691.2 Q1333 689.6 1324 686.4 Q1319 683.4 1312.4 680.8 L1312.4 675.2 Q1332 672.6 1344.8 672.8 Q1349 673.2 1356 674.6 L1365.2 676 Q1366 670 1367.6 664 Z" fill="#a0a0ec"/><path d="M1374.4 668 Q1377.2 671.6 1378.6 676 Q1380.4 680.4 1380.8 684.8 Q1380.4 688.6 1379.2 692 Q1377 694.6 1374.4 696.4 Q1371.8 694.6 1369.6 692 Q1368.4 688.6 1368 684.8 Q1368.4 680.4 1370.2 676 Q1371.6 671.6 1374.4 668Z" fill="#5c5cf0"/><path d="M1374.4 677.6 L1376 684.6 L1374.4 689 L1372.8 684.6Z" fill="#1e1ef4"/></g><g transform="translate(0 1486.8) scale(1 -1)"><path d="M1367.4 658 Q1370.5 656.2 1374.4 656.4 Q1378.4 656.2 1381.6 658 L1382 664 Q1383.6 670 1384.4 676 L1392 674.6 Q1400 673.2 1404 672.8 Q1417 672.6 1436.7 675.2 L1436.7 680.8 Q1430 683.4 1425 686.4 Q1416 689.6 1405 691.2 Q1395 693.4 1388 694.4 L1383.6 695.2 Q1382.4 697.6 1380.8 699.2 Q1377.6 702.4 1374.4 704.4 Q1371.2 702.4 1368 699.2 Q1366.4 697.6 1365.2 695.2 L1360.8 694.4 Q1354 693.4 1344 691.2 Q1333 689.6 1324 686.4 Q1319 683.4 1312.4 680.8 L1312.4 675.2 Q1332 672.6 1344.8 672.8 Q1349 673.2 1356 674.6 L1365.2 676 Q1366 670 1367.6 664 Z" fill="#a0a0ec"/><path d="M1374.4 668 Q1377.2 671.6 1378.6 676 Q1380.4 680.4 1380.8 684.8 Q1380.4 688.6 1379.2 692 Q1377 694.6 1374.4 696.4 Q1371.8 694.6 1369.6 692 Q1368.4 688.6 1368 684.8 Q1368.4 680.4 1370.2 676 Q1371.6 671.6 1374.4 668Z" fill="#5c5cf0"/><path d="M1374.4 677.6 L1376 684.6 L1374.4 689 L1372.8 684.6Z" fill="#1e1ef4"/></g><path d="M1312.4 533.5V953.6M1322.76 533.5V953.6M1333.12 533.5V953.6M1343.48 533.5V953.6M1353.83 533.5V953.6M1364.19 533.5V953.6M1374.55 533.5V953.6M1384.91 533.5V953.6M1395.27 533.5V953.6M1405.62 533.5V953.6M1415.98 533.5V953.6M1426.34 533.5V953.6M1436.7 533.5V953.6M1312.4 533.5H1436.7M1312.4 543.75H1436.7M1312.4 553.99H1436.7M1312.4 564.24H1436.7M1312.4 574.49H1436.7M1312.4 584.73H1436.7M1312.4 594.98H1436.7M1312.4 605.22H1436.7M1312.4 615.47H1436.7M1312.4 625.72H1436.7M1312.4 635.96H1436.7M1312.4 646.21H1436.7M1312.4 656.46H1436.7M1312.4 666.7H1436.7M1312.4 676.95H1436.7M1312.4 687.2H1436.7M1312.4 697.44H1436.7M1312.4 707.69H1436.7M1312.4 717.93H1436.7M1312.4 728.18H1436.7M1312.4 738.43H1436.7M1312.4 748.67H1436.7M1312.4 758.92H1436.7M1312.4 769.17H1436.7M1312.4 779.41H1436.7M1312.4 789.66H1436.7M1312.4 799.9H1436.7M1312.4 810.15H1436.7M1312.4 820.4H1436.7M1312.4 830.64H1436.7M1312.4 840.89H1436.7M1312.4 851.14H1436.7M1312.4 861.38H1436.7M1312.4 871.63H1436.7M1312.4 881.88H1436.7M1312.4 892.12H1436.7M1312.4 902.37H1436.7M1312.4 912.61H1436.7M1312.4 922.86H1436.7M1312.4 933.11H1436.7M1312.4 943.35H1436.7M1312.4 953.6H1436.7" stroke="#1e1e1e" stroke-width="0.85" fill="none" stroke-linecap="square"/><path d="M1312.4 798.8H1436.7" stroke="#000" stroke-width="1.8"/><path d="M1312.4 688.0H1436.6" stroke="#f26b21" stroke-width="3.6" stroke-linecap="round"/><path d="M1374.5 688.0V798.8" stroke="#000" stroke-width="1.8"/></svg><svg class="abs" style="left:1690px;top:520px" width="200" height="450" viewBox="1690 520 200 450"><text x="1703" y="537.4" font-size="9.3" fill="#111" text-anchor="start">σ⊥ [MPa]</text><rect x="1702.6" y="569" width="12.83" height="15" fill="#93d2fa"/><rect x="1715.43" y="569" width="12.83" height="26.8" fill="#93d2fa"/><rect x="1728.27" y="569" width="12.83" height="31.3" fill="#93d2fa"/><rect x="1741.1" y="569" width="12.83" height="2.2" fill="#93d2fa"/><rect x="1753.93" y="560.8" width="12.83" height="8.2" fill="#93d2fa"/><rect x="1766.77" y="556.8" width="12.83" height="12.2" fill="#93d2fa"/><rect x="1779.6" y="556.8" width="12.83" height="12.2" fill="#93d2fa"/><rect x="1792.43" y="560.8" width="12.83" height="8.2" fill="#93d2fa"/><rect x="1805.27" y="569" width="12.83" height="2.2" fill="#93d2fa"/><rect x="1818.1" y="569" width="12.83" height="31.3" fill="#93d2fa"/><rect x="1830.93" y="569" width="12.83" height="26.8" fill="#93d2fa"/><rect x="1843.77" y="569" width="12.83" height="15" fill="#93d2fa"/><path d="M1702.6 569H1856.6M1702.6 569V584M1715.43 569V584M1715.43 569V595.8M1728.27 569V595.8M1728.27 569V600.3M1741.1 569V600.3M1741.1 569V571.2M1753.93 569V571.2M1753.93 569V560.8M1766.77 569V560.8M1766.77 569V556.8M1779.6 569V556.8M1779.6 569V556.8M1792.43 569V556.8M1792.43 569V560.8M1805.27 569V560.8M1805.27 569V571.2M1818.1 569V571.2M1818.1 569V600.3M1830.93 569V600.3M1830.93 569V595.8M1843.77 569V595.8M1843.77 569V584M1856.6 569V584" stroke="#6d8797" stroke-width="0.7" fill="none"/><path d="M1702.6 584L1702.6 584L1715.43 584L1715.43 595.8L1728.27 595.8L1728.27 600.3L1741.1 600.3L1741.1 571.2L1753.93 571.2L1753.93 560.8L1766.77 560.8L1766.77 556.8L1779.6 556.8L1779.6 556.8L1792.43 556.8L1792.43 560.8L1805.27 560.8L1805.27 571.2L1818.1 571.2L1818.1 600.3L1830.93 600.3L1830.93 595.8L1843.77 595.8L1843.77 584L1856.6 584" stroke="#1a1a1a" stroke-width="1.15" fill="none" stroke-linejoin="miter"/><text x="1780" y="554.6" font-size="9.3" fill="#111" text-anchor="start">71.4</text><text x="1791.3" y="608.6" font-size="9.3" fill="#111" text-anchor="start">-186.0</text><text x="1703" y="624.8" font-size="9.3" fill="#111" text-anchor="start">τ⊥ [MPa]</text><text x="1703" y="642.8" font-size="9.3" fill="#111" text-anchor="start">221.2</text><rect x="1702.6" y="645.4" width="12.83" height="37.1" fill="#93d2fa"/><rect x="1715.43" y="673.7" width="12.83" height="8.8" fill="#93d2fa"/><rect x="1728.27" y="672.8" width="12.83" height="9.7" fill="#93d2fa"/><rect x="1741.1" y="682.5" width="12.83" height="28.5" fill="#93d2fa"/><rect x="1753.93" y="682.5" width="12.83" height="35.6" fill="#93d2fa"/><rect x="1766.77" y="682.5" width="12.83" height="42.8" fill="#93d2fa"/><rect x="1779.6" y="682.5" width="12.83" height="42.8" fill="#93d2fa"/><rect x="1792.43" y="682.5" width="12.83" height="35.6" fill="#93d2fa"/><rect x="1805.27" y="682.5" width="12.83" height="28.5" fill="#93d2fa"/><rect x="1818.1" y="672.8" width="12.83" height="9.7" fill="#93d2fa"/><rect x="1830.93" y="673.7" width="12.83" height="8.8" fill="#93d2fa"/><rect x="1843.77" y="645.4" width="12.83" height="37.1" fill="#93d2fa"/><path d="M1702.6 682.5H1856.6M1702.6 682.5V645.4M1715.43 682.5V645.4M1715.43 682.5V673.7M1728.27 682.5V673.7M1728.27 682.5V672.8M1741.1 682.5V672.8M1741.1 682.5V711M1753.93 682.5V711M1753.93 682.5V718.1M1766.77 682.5V718.1M1766.77 682.5V725.3M1779.6 682.5V725.3M1779.6 682.5V725.3M1792.43 682.5V725.3M1792.43 682.5V718.1M1805.27 682.5V718.1M1805.27 682.5V711M1818.1 682.5V711M1818.1 682.5V672.8M1830.93 682.5V672.8M1830.93 682.5V673.7M1843.77 682.5V673.7M1843.77 682.5V645.4M1856.6 682.5V645.4" stroke="#6d8797" stroke-width="0.7" fill="none"/><path d="M1702.6 645.4L1702.6 645.4L1715.43 645.4L1715.43 673.7L1728.27 673.7L1728.27 672.8L1741.1 672.8L1741.1 711L1753.93 711L1753.93 718.1L1766.77 718.1L1766.77 725.3L1779.6 725.3L1779.6 725.3L1792.43 725.3L1792.43 718.1L1805.27 718.1L1805.27 711L1818.1 711L1818.1 672.8L1830.93 672.8L1830.93 673.7L1843.77 673.7L1843.77 645.4L1856.6 645.4" stroke="#1a1a1a" stroke-width="1.15" fill="none" stroke-linejoin="miter"/><text x="1779.7" y="733.6" font-size="9.3" fill="#111" text-anchor="start">-248.9</text><text x="1703" y="749.7" font-size="9.3" fill="#111" text-anchor="start">τ∥ [MPa]</text><text x="1742.3" y="767.8" font-size="9.3" fill="#111" text-anchor="start">183.8</text><rect x="1702.6" y="793.9" width="12.83" height="7.2" fill="#93d2fa"/><rect x="1715.43" y="801.1" width="12.83" height="28.4" fill="#93d2fa"/><rect x="1728.27" y="801.1" width="12.83" height="6.9" fill="#93d2fa"/><rect x="1741.1" y="769.5" width="12.83" height="31.6" fill="#93d2fa"/><rect x="1753.93" y="776.6" width="12.83" height="24.5" fill="#93d2fa"/><rect x="1766.77" y="790.8" width="12.83" height="10.3" fill="#93d2fa"/><rect x="1779.6" y="801.1" width="12.83" height="10" fill="#93d2fa"/><rect x="1792.43" y="801.1" width="12.83" height="24.2" fill="#93d2fa"/><rect x="1805.27" y="801.1" width="12.83" height="31.3" fill="#93d2fa"/><rect x="1818.1" y="793.9" width="12.83" height="7.2" fill="#93d2fa"/><rect x="1830.93" y="772.4" width="12.83" height="28.7" fill="#93d2fa"/><rect x="1843.77" y="801.1" width="12.83" height="6.9" fill="#93d2fa"/><path d="M1702.6 801.1H1856.6M1702.6 801.1V793.9M1715.43 801.1V793.9M1715.43 801.1V829.5M1728.27 801.1V829.5M1728.27 801.1V808M1741.1 801.1V808M1741.1 801.1V769.5M1753.93 801.1V769.5M1753.93 801.1V776.6M1766.77 801.1V776.6M1766.77 801.1V790.8M1779.6 801.1V790.8M1779.6 801.1V811.1M1792.43 801.1V811.1M1792.43 801.1V825.3M1805.27 801.1V825.3M1805.27 801.1V832.4M1818.1 801.1V832.4M1818.1 801.1V793.9M1830.93 801.1V793.9M1830.93 801.1V772.4M1843.77 801.1V772.4M1843.77 801.1V808M1856.6 801.1V808" stroke="#6d8797" stroke-width="0.7" fill="none"/><path d="M1702.6 793.9L1702.6 793.9L1715.43 793.9L1715.43 829.5L1728.27 829.5L1728.27 808L1741.1 808L1741.1 769.5L1753.93 769.5L1753.93 776.6L1766.77 776.6L1766.77 790.8L1779.6 790.8L1779.6 811.1L1792.43 811.1L1792.43 825.3L1805.27 825.3L1805.27 832.4L1818.1 832.4L1818.1 793.9L1830.93 793.9L1830.93 772.4L1843.77 772.4L1843.77 808L1856.6 808" stroke="#1a1a1a" stroke-width="1.15" fill="none" stroke-linejoin="miter"/><text x="1778.6" y="840.6" font-size="9.3" fill="#111" text-anchor="start">-183.9</text><text x="1703.2" y="856.9" font-size="9.3" fill="#111" text-anchor="start">Equivalent stress [MPa]</text><rect x="1702.6" y="885.5" width="12.83" height="68" fill="#c5fa69" stroke="#6f6f5f" stroke-width="0.8"/><rect x="1715.43" y="894.3" width="12.83" height="59.2" fill="#c5fa69" stroke="#6f6f5f" stroke-width="0.8"/><rect x="1728.27" y="914.5" width="12.83" height="39" fill="#c4c4c4" stroke="#6f6f5f" stroke-width="0.8"/><rect x="1741.1" y="880.6" width="12.83" height="72.9" fill="#ffbd4f" stroke="#6f6f5f" stroke-width="0.8"/><rect x="1753.93" y="878.3" width="12.83" height="75.2" fill="#ff5050" stroke="#6f6f5f" stroke-width="0.8"/><rect x="1766.77" y="876.8" width="12.83" height="76.7" fill="#ff5050" stroke="#6f6f5f" stroke-width="0.8"/><rect x="1779.6" y="876.8" width="12.83" height="76.7" fill="#ff5050" stroke="#6f6f5f" stroke-width="0.8"/><rect x="1792.43" y="878.3" width="12.83" height="75.2" fill="#ff5050" stroke="#6f6f5f" stroke-width="0.8"/><rect x="1805.27" y="880.6" width="12.83" height="72.9" fill="#ffbd4f" stroke="#6f6f5f" stroke-width="0.8"/><rect x="1818.1" y="914.5" width="12.83" height="39" fill="#c4c4c4" stroke="#6f6f5f" stroke-width="0.8"/><rect x="1830.93" y="894.3" width="12.83" height="59.2" fill="#c5fa69" stroke="#6f6f5f" stroke-width="0.8"/><rect x="1843.77" y="885.5" width="12.83" height="68" fill="#c5fa69" stroke="#6f6f5f" stroke-width="0.8"/><text x="1780" y="874.8" font-size="9.3" fill="#111" text-anchor="start">450.1</text><text x="1728.6" y="912.6" font-size="9.3" fill="#111" text-anchor="start">226.0</text></svg>
</div>
</body>
</html>
